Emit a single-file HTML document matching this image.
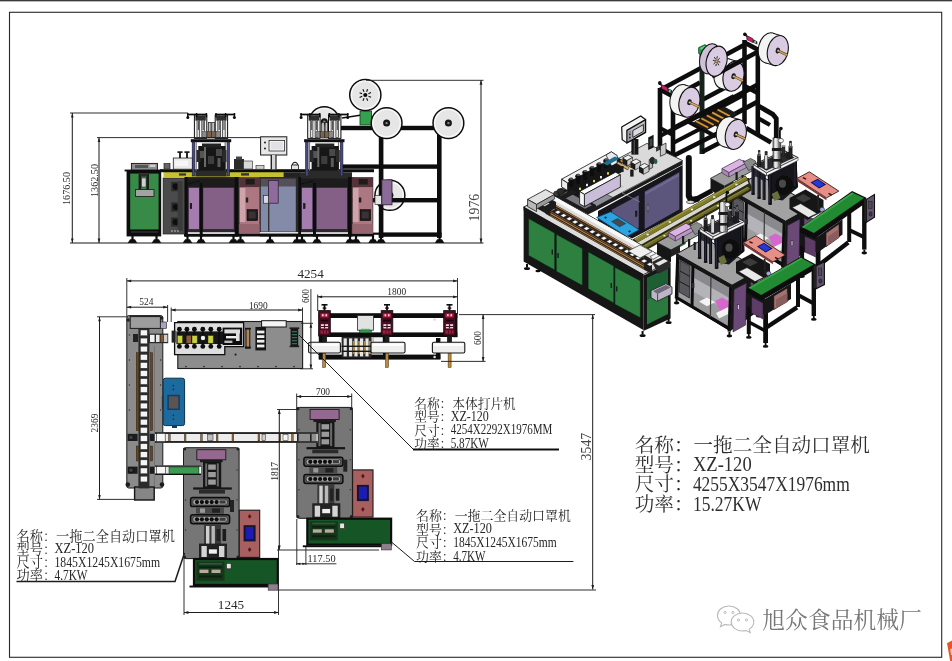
<!DOCTYPE html>
<html><head><meta charset="utf-8"><title>drawing</title>
<style>html,body{margin:0;padding:0;background:#fff;overflow:hidden}svg{display:block}text{font-family:"Liberation Serif","Noto Serif CJK SC",serif}</style>
</head><body>
<svg width="952" height="661" viewBox="0 0 952 661">
<defs><filter id="soft" x="0" y="0" width="100%" height="100%" filterUnits="userSpaceOnUse"><feGaussianBlur stdDeviation="0.45"/></filter></defs>
<rect width="952" height="661" fill="#fff"/>
<g filter="url(#soft)">
<rect x="0" y="0" width="952" height="1.2" fill="#3a3a3a"/>
<rect x="0" y="1.2" width="952" height="0.8" fill="#b5b5b5"/>
<rect x="9.5" y="12.3" width="932.2" height="645" fill="none" stroke="#2a2a2a" stroke-width="1.1"/>
<path d="M947 643.2L952 640.6L952 661L950.2 661Z" fill="#e2572b"/>
<path d="M950.2 649L952 648.4L952 655L951 655Z" fill="#f7c9a8"/>
<circle cx="324.3" cy="121.7" r="15" fill="#e6e6e6" stroke="#101010" stroke-width="1.5"/>
<circle cx="324.3" cy="121.7" r="13.2" fill="none" stroke="#f8f8f8" stroke-width="1.2"/>
<circle cx="324.3" cy="121.7" r="3.5" fill="#141414"/>
<circle cx="324.3" cy="121.7" r="1.2" fill="#8a8a8a"/>
<circle cx="389.9" cy="195.3" r="15" fill="#e6e6e6" stroke="#101010" stroke-width="1.5"/>
<circle cx="389.9" cy="195.3" r="13.2" fill="none" stroke="#f8f8f8" stroke-width="1.2"/>
<circle cx="389.9" cy="195.3" r="3.5" fill="#141414"/>
<circle cx="389.9" cy="195.3" r="1.2" fill="#8a8a8a"/>
<rect x="378.8" y="124" width="4.6" height="114" fill="#0c0c0c"/>
<rect x="437" y="124" width="4.6" height="114" fill="#0c0c0c"/>
<rect x="341" y="125.8" width="100" height="4.4" fill="#0c0c0c"/>
<rect x="341" y="164.4" width="100" height="4.4" fill="#0c0c0c"/>
<rect x="341" y="198" width="100" height="4.4" fill="#0c0c0c"/>
<rect x="378.8" y="232.4" width="62.8" height="4.4" fill="#0c0c0c"/>
<rect x="349" y="232.6" width="32" height="2.2" fill="#0c0c0c"/>
<path d="M439.4 228L439.4 233" stroke="#0c0c0c" stroke-width="1.2" fill="none"/>
<circle cx="439.4" cy="227.6" r="1" fill="#0c0c0c"/>
<path d="M376.2 243L385.8 243L383.4 239.2L378.6 239.2Z" fill="#111"/>
<path d="M381 240L381 235" stroke="#111" stroke-width="2.2" fill="none"/>
<path d="M434.8 243L444.4 243L442 239.2L437.2 239.2Z" fill="#111"/>
<path d="M439.6 240L439.6 235" stroke="#111" stroke-width="2.2" fill="none"/>
<rect x="360" y="111" width="11.6" height="14" fill="#35a04e" stroke="#0f3d1a" stroke-width="0.8"/>
<path d="M342 118L360 115.2" stroke="#111" stroke-width="1.6" fill="none"/>
<circle cx="365.3" cy="95" r="15.6" fill="#e6e6e6" stroke="#101010" stroke-width="1.5"/>
<circle cx="365.3" cy="95" r="13.8" fill="none" stroke="#f8f8f8" stroke-width="1.2"/>
<circle cx="365.3" cy="95" r="2.1" fill="#111"/>
<path d="M368.5 96.3L371 97.3" stroke="#111" stroke-width="1.1" fill="none"/>
<path d="M366.6 98.1L367.7 100.7" stroke="#111" stroke-width="1.1" fill="none"/>
<path d="M364 98.2L363 100.7" stroke="#111" stroke-width="1.1" fill="none"/>
<path d="M362.2 96.3L359.6 97.4" stroke="#111" stroke-width="1.1" fill="none"/>
<path d="M362.1 93.7L359.6 92.7" stroke="#111" stroke-width="1.1" fill="none"/>
<path d="M364 91.9L362.9 89.3" stroke="#111" stroke-width="1.1" fill="none"/>
<path d="M366.6 91.8L367.6 89.3" stroke="#111" stroke-width="1.1" fill="none"/>
<path d="M368.4 93.7L371 92.6" stroke="#111" stroke-width="1.1" fill="none"/>
<circle cx="386.6" cy="123.1" r="15.4" fill="#e6e6e6" stroke="#101010" stroke-width="1.5"/>
<circle cx="386.6" cy="123.1" r="13.6" fill="none" stroke="#f8f8f8" stroke-width="1.2"/>
<circle cx="386.6" cy="123.1" r="3.5" fill="#141414"/>
<circle cx="386.6" cy="123.1" r="1.2" fill="#8a8a8a"/>
<circle cx="448.4" cy="123.1" r="15.4" fill="#e6e6e6" stroke="#101010" stroke-width="1.5"/>
<circle cx="448.4" cy="123.1" r="13.6" fill="none" stroke="#f8f8f8" stroke-width="1.2"/>
<circle cx="448.4" cy="123.1" r="3.5" fill="#141414"/>
<circle cx="448.4" cy="123.1" r="1.2" fill="#8a8a8a"/>
<rect x="381.8" y="179.8" width="10.2" height="25" fill="#8a6a96" stroke="#2a1a30" stroke-width="0.8"/>
<rect x="375" y="195.6" width="6.4" height="9" fill="#e4e4e4" stroke="#222" stroke-width="0.6"/>
<rect x="160" y="169.2" width="214" height="3" fill="#111"/>
<rect x="163.5" y="172.2" width="120" height="4.8" fill="#c8c02e"/>
<rect x="163.5" y="172.2" width="120" height="0.8" fill="#8a8c20"/>
<rect x="283.5" y="172.2" width="17" height="4.8" fill="#222"/>
<rect x="241" y="173.2" width="8" height="2.4" fill="#333"/>
<rect x="179" y="173.4" width="7" height="2.2" fill="#333"/>
<rect x="300" y="172.2" width="52" height="4.8" fill="#2c2c2c"/>
<rect x="126.6" y="170.2" width="34.6" height="66.2" fill="#111"/>
<rect x="130.2" y="173.6" width="28.4" height="55.8" fill="#378a46"/>
<rect x="131" y="231.6" width="27" height="0.8" fill="#4a4a4a"/>
<rect x="131.4" y="163.4" width="26" height="7" fill="#8d8d8d" stroke="#111" stroke-width="0.9"/>
<rect x="135" y="165" width="13" height="3" fill="#555"/>
<rect x="149.5" y="164.6" width="6" height="2.4" fill="#cfcfcf"/>
<rect x="124.6" y="169.6" width="38.6" height="1.8" fill="#111"/>
<rect x="138.6" y="174" width="2.6" height="16" fill="#1c1c1c"/>
<rect x="146.4" y="174" width="2.6" height="16" fill="#1c1c1c"/>
<rect x="141.6" y="178" width="4.4" height="9" fill="#d0d0d0" stroke="#222" stroke-width="0.5"/>
<rect x="140" y="174" width="7.6" height="2.6" fill="#2a2a2a"/>
<rect x="135.4" y="189.6" width="18.6" height="6.8" fill="#a2a2a2" stroke="#1a1a1a" stroke-width="0.8"/>
<path d="M127.7 243L137.3 243L134.9 239.2L130.1 239.2Z" fill="#111"/>
<path d="M132.5 240L132.5 235" stroke="#111" stroke-width="2.2" fill="none"/>
<path d="M151.7 243L161.3 243L158.9 239.2L154.1 239.2Z" fill="#111"/>
<path d="M156.5 240L156.5 235" stroke="#111" stroke-width="2.2" fill="none"/>
<rect x="163.1" y="178" width="21.6" height="56" fill="#4b4b4b" stroke="#1d1d1d" stroke-width="0.7"/>
<rect x="171.2" y="182" width="9.4" height="9.2" fill="#2b2b2b"/>
<circle cx="175.8" cy="186.6" r="3.1" fill="#111"/>
<rect x="171.2" y="202.4" width="9.4" height="9.2" fill="#2b2b2b"/>
<circle cx="175.8" cy="207" r="3.1" fill="#111"/>
<rect x="171.2" y="217.4" width="9.4" height="9.2" fill="#2b2b2b"/>
<circle cx="175.8" cy="222" r="3.1" fill="#111"/>
<rect x="177.6" y="181" width="5" height="50" fill="#3a3a3a"/>
<circle cx="172" cy="231" r="0.8" fill="#ccc"/>
<circle cx="175" cy="231" r="0.8" fill="#ccc"/>
<circle cx="178" cy="231" r="0.8" fill="#ccc"/>
<rect x="173.3" y="158" width="19.3" height="11.2" fill="#e9e9e9" stroke="#222" stroke-width="0.8"/>
<rect x="175" y="160.5" width="13" height="5.5" fill="#f6f6f6"/>
<rect x="179.1" y="152.4" width="1.8" height="5.6" fill="#111"/>
<rect x="177.4" y="151.3" width="5.2" height="1.6" fill="#111"/>
<rect x="186.1" y="152.4" width="1.8" height="5.6" fill="#111"/>
<rect x="184.4" y="151.3" width="5.2" height="1.6" fill="#111"/>
<rect x="164" y="163.5" width="6" height="5.6" fill="#666" stroke="#111" stroke-width="0.6"/>
<rect x="234" y="159" width="10" height="10" fill="#2a2a2a"/>
<rect x="236" y="156.5" width="6" height="3" fill="#444"/>
<rect x="243.5" y="161" width="9" height="8" fill="#d9d9d9" stroke="#222" stroke-width="0.6"/>
<rect x="256" y="165.6" width="8" height="3.6" fill="#cfcfcf" stroke="#222" stroke-width="0.6"/>
<circle cx="295" cy="164.8" r="2.6" fill="#e4e4e4" stroke="#111" stroke-width="1"/>
<rect x="291.6" y="165" width="6.8" height="4.4" fill="#e4e4e4" stroke="#111" stroke-width="0.8"/>
<rect x="194.4" y="115" width="12.4" height="23.4" fill="#f4f4f4" stroke="#111" stroke-width="1"/>
<rect x="197" y="116" width="2.6" height="21.6" fill="#e2e2e2" stroke="#2a2a2a" stroke-width="0.7"/>
<rect x="201.8" y="116" width="2.6" height="21.6" fill="#e2e2e2" stroke="#2a2a2a" stroke-width="0.7"/>
<rect x="195.4" y="116" width="10.4" height="4.6" fill="#2e2e2e"/>
<rect x="197.8" y="121" width="1.2" height="9" fill="#555"/>
<rect x="202.6" y="121" width="1.2" height="9" fill="#555"/>
<rect x="215.2" y="115" width="12.4" height="23.4" fill="#f4f4f4" stroke="#111" stroke-width="1"/>
<rect x="217.8" y="116" width="2.6" height="21.6" fill="#e2e2e2" stroke="#2a2a2a" stroke-width="0.7"/>
<rect x="222.6" y="116" width="2.6" height="21.6" fill="#e2e2e2" stroke="#2a2a2a" stroke-width="0.7"/>
<rect x="216.2" y="116" width="10.4" height="4.6" fill="#2e2e2e"/>
<rect x="218.6" y="121" width="1.2" height="9" fill="#555"/>
<rect x="223.4" y="121" width="1.2" height="9" fill="#555"/>
<rect x="208.4" y="122.4" width="2.6" height="15.6" fill="#c4c4c4" stroke="#1a1a1a" stroke-width="0.7"/>
<rect x="211.8" y="122.4" width="2.6" height="15.6" fill="#c4c4c4" stroke="#1a1a1a" stroke-width="0.7"/>
<rect x="207.2" y="131.6" width="4" height="5.6" fill="#7a6450" stroke="#2a2018" stroke-width="0.4"/>
<rect x="211.6" y="131.6" width="4" height="5.6" fill="#7a6450" stroke="#2a2018" stroke-width="0.4"/>
<rect x="216.4" y="131.6" width="4" height="5.6" fill="#8a8a8a" stroke="#222" stroke-width="0.4"/>
<rect x="202.6" y="131.6" width="4" height="5.6" fill="#8a8a8a" stroke="#222" stroke-width="0.4"/>
<path d="M187 114.5L207 114.5" stroke="#111" stroke-width="1.7" fill="none"/>
<path d="M215.4 114.5L235.2 114.5" stroke="#111" stroke-width="1.7" fill="none"/>
<path d="M187.8 113L187.8 117.4" stroke="#111" stroke-width="1.5" fill="none"/>
<path d="M196.6 113L196.6 117.4" stroke="#111" stroke-width="1.5" fill="none"/>
<path d="M206.4 113L206.4 117.4" stroke="#111" stroke-width="1.5" fill="none"/>
<path d="M216 113L216 117.4" stroke="#111" stroke-width="1.5" fill="none"/>
<path d="M225.6 113L225.6 117.4" stroke="#111" stroke-width="1.5" fill="none"/>
<path d="M234.4 113L234.4 117.4" stroke="#111" stroke-width="1.5" fill="none"/>
<circle cx="187.8" cy="117.6" r="1.5" fill="#111"/>
<circle cx="234.4" cy="117.6" r="1.5" fill="#111"/>
<rect x="190.8" y="139.2" width="40.4" height="3" fill="#111"/>
<rect x="192.2" y="142" width="2.6" height="34" fill="#4a4a7c" stroke="#1a1a3a" stroke-width="0.6"/>
<rect x="227" y="142" width="2.6" height="34" fill="#4a4a7c" stroke="#1a1a3a" stroke-width="0.6"/>
<rect x="195.6" y="142" width="1.2" height="34" fill="#777"/>
<rect x="224.6" y="142" width="1.2" height="34" fill="#777"/>
<rect x="198.3" y="146" width="27.2" height="24.5" fill="#161616"/>
<rect x="202" y="143.5" width="19" height="4" fill="#222"/>
<rect x="196.5" y="150" width="4" height="12" fill="#2a2a2a"/>
<rect x="222.5" y="150" width="4" height="12" fill="#2a2a2a"/>
<rect x="200" y="151" width="5" height="7" fill="#555"/>
<rect x="216" y="149" width="6" height="7" fill="#4a4a4a"/>
<rect x="208" y="156" width="6" height="8" fill="#3c3c3c"/>
<rect x="204" y="147" width="2" height="20" fill="#6a6a6a"/>
<rect x="217.500" y="158" width="3" height="9" fill="#5a5a5a"/>
<rect x="195.500" y="170.500" width="31" height="6" fill="#2b2b2b"/>
<rect x="201" y="177.500" width="19" height="2.600" fill="#dadada" stroke="#222" stroke-width="0.5"/>
<rect x="204" y="180" width="13" height="2.2" fill="#111"/>
<rect x="307.7" y="115" width="12.4" height="23.4" fill="#f4f4f4" stroke="#111" stroke-width="1"/>
<rect x="310.3" y="116" width="2.6" height="21.6" fill="#e2e2e2" stroke="#2a2a2a" stroke-width="0.7"/>
<rect x="315.1" y="116" width="2.6" height="21.6" fill="#e2e2e2" stroke="#2a2a2a" stroke-width="0.7"/>
<rect x="308.7" y="116" width="10.4" height="4.6" fill="#2e2e2e"/>
<rect x="311.1" y="121" width="1.2" height="9" fill="#555"/>
<rect x="315.9" y="121" width="1.2" height="9" fill="#555"/>
<rect x="328.5" y="115" width="12.4" height="23.4" fill="#f4f4f4" stroke="#111" stroke-width="1"/>
<rect x="331.1" y="116" width="2.6" height="21.6" fill="#e2e2e2" stroke="#2a2a2a" stroke-width="0.7"/>
<rect x="335.9" y="116" width="2.6" height="21.6" fill="#e2e2e2" stroke="#2a2a2a" stroke-width="0.7"/>
<rect x="329.5" y="116" width="10.4" height="4.6" fill="#2e2e2e"/>
<rect x="331.9" y="121" width="1.2" height="9" fill="#555"/>
<rect x="336.7" y="121" width="1.2" height="9" fill="#555"/>
<rect x="321.7" y="122.4" width="2.6" height="15.6" fill="#c4c4c4" stroke="#1a1a1a" stroke-width="0.7"/>
<rect x="325.1" y="122.4" width="2.6" height="15.6" fill="#c4c4c4" stroke="#1a1a1a" stroke-width="0.7"/>
<rect x="320.5" y="131.6" width="4" height="5.6" fill="#7a6450" stroke="#2a2018" stroke-width="0.4"/>
<rect x="324.9" y="131.6" width="4" height="5.6" fill="#7a6450" stroke="#2a2018" stroke-width="0.4"/>
<rect x="329.7" y="131.6" width="4" height="5.6" fill="#8a8a8a" stroke="#222" stroke-width="0.4"/>
<rect x="315.9" y="131.6" width="4" height="5.6" fill="#8a8a8a" stroke="#222" stroke-width="0.4"/>
<path d="M300.3 114.5L320.3 114.5" stroke="#111" stroke-width="1.7" fill="none"/>
<path d="M328.7 114.5L348.5 114.5" stroke="#111" stroke-width="1.7" fill="none"/>
<path d="M301.1 113L301.1 117.4" stroke="#111" stroke-width="1.5" fill="none"/>
<path d="M309.9 113L309.9 117.4" stroke="#111" stroke-width="1.5" fill="none"/>
<path d="M319.7 113L319.7 117.4" stroke="#111" stroke-width="1.5" fill="none"/>
<path d="M329.3 113L329.3 117.4" stroke="#111" stroke-width="1.5" fill="none"/>
<path d="M338.9 113L338.9 117.4" stroke="#111" stroke-width="1.5" fill="none"/>
<path d="M347.7 113L347.7 117.4" stroke="#111" stroke-width="1.5" fill="none"/>
<circle cx="301.1" cy="117.6" r="1.5" fill="#111"/>
<circle cx="347.7" cy="117.6" r="1.5" fill="#111"/>
<rect x="304.1" y="139.2" width="40.4" height="3" fill="#111"/>
<rect x="305.5" y="142" width="2.6" height="34" fill="#4a4a7c" stroke="#1a1a3a" stroke-width="0.6"/>
<rect x="340.3" y="142" width="2.6" height="34" fill="#4a4a7c" stroke="#1a1a3a" stroke-width="0.6"/>
<rect x="308.9" y="142" width="1.2" height="34" fill="#777"/>
<rect x="337.9" y="142" width="1.2" height="34" fill="#777"/>
<rect x="311.6" y="146" width="27.2" height="24.5" fill="#161616"/>
<rect x="315.3" y="143.5" width="19" height="4" fill="#222"/>
<rect x="309.8" y="150" width="4" height="12" fill="#2a2a2a"/>
<rect x="335.8" y="150" width="4" height="12" fill="#2a2a2a"/>
<rect x="313.3" y="151" width="5" height="7" fill="#555"/>
<rect x="329.3" y="149" width="6" height="7" fill="#4a4a4a"/>
<rect x="321.3" y="156" width="6" height="8" fill="#3c3c3c"/>
<rect x="317.3" y="147" width="2" height="20" fill="#6a6a6a"/>
<rect x="330.8" y="158" width="3" height="9" fill="#5a5a5a"/>
<rect x="308.8" y="170.5" width="31" height="6" fill="#2b2b2b"/>
<rect x="314.3" y="177.5" width="19" height="2.6" fill="#dadada" stroke="#222" stroke-width="0.5"/>
<rect x="317.3" y="180" width="13" height="2.2" fill="#111"/>
<rect x="184.7" y="177" width="54.6" height="59.5" fill="#2a2a2a"/>
<rect x="186.2" y="178.5" width="51.6" height="8.5" fill="#1f1a1c"/>
<rect x="188.3" y="187.4" width="11.2" height="42" fill="#a47cae" stroke="#2a1a30" stroke-width="0.6"/>
<rect x="202.9" y="187.4" width="31.2" height="42" fill="#845f86" stroke="#2a1a30" stroke-width="0.6"/>
<rect x="190.1" y="203.5" width="1.7" height="5.2" fill="#222" stroke="#000" stroke-width="0.4"/>
<rect x="187.7" y="232.2" width="48.6" height="1.8" fill="#e8e8e8"/>
<rect x="184.7" y="177" width="3" height="59.5" fill="#111"/>
<rect x="199.7" y="183" width="3" height="53.5" fill="#111"/>
<rect x="234.7" y="177" width="3.6" height="59.5" fill="#111"/>
<path d="M187.7 184L199.7 181" stroke="#111" stroke-width="1.2" fill="none"/>
<rect x="298" y="177" width="54.6" height="59.5" fill="#2a2a2a"/>
<rect x="299.5" y="178.5" width="51.6" height="8.5" fill="#1f1a1c"/>
<rect x="301.6" y="187.4" width="11.2" height="42" fill="#a47cae" stroke="#2a1a30" stroke-width="0.6"/>
<rect x="316.2" y="187.4" width="31.2" height="42" fill="#845f86" stroke="#2a1a30" stroke-width="0.6"/>
<rect x="303.4" y="203.5" width="1.7" height="5.2" fill="#222" stroke="#000" stroke-width="0.4"/>
<rect x="301" y="232.2" width="48.6" height="1.8" fill="#e8e8e8"/>
<rect x="298" y="177" width="3" height="59.5" fill="#111"/>
<rect x="313" y="183" width="3" height="53.5" fill="#111"/>
<rect x="348" y="177" width="3.6" height="59.5" fill="#111"/>
<path d="M301 184L313 181" stroke="#111" stroke-width="1.2" fill="none"/>
<rect x="239.2" y="177.6" width="20.6" height="56.5" fill="#ad7782" stroke="#3a2a2e" stroke-width="0.7"/>
<rect x="239.2" y="177.6" width="20.6" height="9.5" fill="#553038"/>
<rect x="245.7" y="179" width="9" height="5.5" fill="#1d1d1d"/>
<rect x="239.8" y="188" width="5.6" height="34" fill="#cfa3aa"/>
<rect x="247" y="209.6" width="10.6" height="11" fill="#1e1a1b" stroke="#000" stroke-width="0.5"/>
<rect x="248.7" y="211.5" width="7" height="7" fill="#3a3234"/>
<rect x="245.8" y="197.5" width="2.4" height="5" fill="#222"/>
<rect x="239.2" y="224" width="20.6" height="10" fill="#96656f"/>
<rect x="352.3" y="177.6" width="20.6" height="56.5" fill="#ad7782" stroke="#3a2a2e" stroke-width="0.7"/>
<rect x="352.3" y="177.6" width="20.6" height="9.5" fill="#553038"/>
<rect x="358.8" y="179" width="9" height="5.5" fill="#1d1d1d"/>
<rect x="352.9" y="188" width="5.6" height="34" fill="#cfa3aa"/>
<rect x="360.1" y="209.6" width="10.6" height="11" fill="#1e1a1b" stroke="#000" stroke-width="0.5"/>
<rect x="361.8" y="211.5" width="7" height="7" fill="#3a3234"/>
<rect x="358.9" y="197.5" width="2.4" height="5" fill="#222"/>
<rect x="352.3" y="224" width="20.6" height="10" fill="#96656f"/>
<rect x="259.8" y="177" width="38.4" height="59.5" fill="#2a2a2a"/>
<rect x="260.8" y="186.2" width="35" height="45.4" fill="#838ba8"/>
<rect x="260.8" y="178.6" width="35" height="7.6" fill="#55505a"/>
<rect x="268" y="186.2" width="1.4" height="45.4" fill="#333"/>
<rect x="268.6" y="180.6" width="9.6" height="22.6" fill="#8f6a9c" stroke="#2a1a30" stroke-width="0.7"/>
<rect x="263.6" y="195.6" width="4.8" height="7.6" fill="#d8d8e4" stroke="#222" stroke-width="0.6"/>
<rect x="259.8" y="232" width="38.4" height="1.6" fill="#e0e0e0"/>
<rect x="184" y="233.9" width="190" height="2.6" fill="#111"/>
<path d="M182.7 243L192.3 243L189.9 239.2L185.1 239.2Z" fill="#111"/>
<path d="M187.5 240L187.5 235" stroke="#111" stroke-width="2.2" fill="none"/>
<path d="M196.2 243L205.8 243L203.4 239.2L198.6 239.2Z" fill="#111"/>
<path d="M201 240L201 235" stroke="#111" stroke-width="2.2" fill="none"/>
<path d="M228.7 243L238.3 243L235.9 239.2L231.1 239.2Z" fill="#111"/>
<path d="M233.5 240L233.5 235" stroke="#111" stroke-width="2.2" fill="none"/>
<path d="M235.7 243L245.3 243L242.9 239.2L238.1 239.2Z" fill="#111"/>
<path d="M240.5 240L240.5 235" stroke="#111" stroke-width="2.2" fill="none"/>
<path d="M265.2 243L274.8 243L272.4 239.2L267.6 239.2Z" fill="#111"/>
<path d="M270 240L270 235" stroke="#111" stroke-width="2.2" fill="none"/>
<path d="M292.2 243L301.8 243L299.4 239.2L294.6 239.2Z" fill="#111"/>
<path d="M297 240L297 235" stroke="#111" stroke-width="2.2" fill="none"/>
<path d="M297.2 243L306.8 243L304.4 239.2L299.6 239.2Z" fill="#111"/>
<path d="M302 240L302 235" stroke="#111" stroke-width="2.2" fill="none"/>
<path d="M312.2 243L321.8 243L319.4 239.2L314.6 239.2Z" fill="#111"/>
<path d="M317 240L317 235" stroke="#111" stroke-width="2.2" fill="none"/>
<path d="M345.2 243L354.8 243L352.4 239.2L347.6 239.2Z" fill="#111"/>
<path d="M350 240L350 235" stroke="#111" stroke-width="2.2" fill="none"/>
<path d="M351.2 243L360.8 243L358.4 239.2L353.6 239.2Z" fill="#111"/>
<path d="M356 240L356 235" stroke="#111" stroke-width="2.2" fill="none"/>
<path d="M368.2 243L377.8 243L375.4 239.2L370.6 239.2Z" fill="#111"/>
<path d="M373 240L373 235" stroke="#111" stroke-width="2.2" fill="none"/>
<rect x="260.6" y="136.8" width="26.2" height="18.2" fill="#e8e8e8" stroke="#1a1a1a" stroke-width="1"/>
<rect x="269" y="140.4" width="15.6" height="10.6" fill="#f2f2f2" stroke="#333" stroke-width="0.8"/>
<rect x="270.8" y="142" width="12" height="7.4" fill="#e2e2e6"/>
<circle cx="265" cy="142.6" r="1" fill="#222"/>
<circle cx="265" cy="148.4" r="1" fill="#222"/>
<rect x="270.6" y="155" width="1.4" height="14.2" fill="#222"/>
<rect x="275.2" y="155" width="1.4" height="14.2" fill="#222"/>
<rect x="272" y="155" width="3.2" height="14.2" fill="#d5d5d5"/>
<rect x="183.5" y="447.7" width="55.6" height="110.9" fill="#767676" stroke="#1a1a1a" stroke-width="1" rx="2.5"/>
<circle cx="184.6" cy="449" r="1.6" fill="#222"/>
<circle cx="238" cy="449" r="1.6" fill="#222"/>
<circle cx="184.6" cy="557" r="1.6" fill="#222"/>
<circle cx="238" cy="557" r="1.6" fill="#222"/>
<circle cx="185.6" cy="470" r="0.7" fill="#333"/>
<circle cx="237" cy="470" r="0.7" fill="#333"/>
<circle cx="185.6" cy="500" r="0.7" fill="#333"/>
<circle cx="237" cy="500" r="0.7" fill="#333"/>
<circle cx="185.6" cy="530" r="0.7" fill="#333"/>
<circle cx="237" cy="530" r="0.7" fill="#333"/>
<rect x="196.8" y="449.7" width="29" height="10.1" fill="#94678f" stroke="#231826" stroke-width="0.9"/>
<rect x="200" y="459.8" width="22.6" height="2.4" fill="#1a1a1a"/>
<rect x="203" y="462" width="18.2" height="27" fill="#181818"/>
<rect x="208.2" y="464.5" width="7.6" height="5.2" fill="#9a9a9a"/>
<rect x="208.2" y="472" width="7.6" height="5.2" fill="#9a9a9a"/>
<rect x="208.2" y="479.5" width="7.6" height="5.2" fill="#9a9a9a"/>
<rect x="205.2" y="463.4" width="2" height="23" fill="#6a6a6a"/>
<rect x="216.8" y="463.4" width="2" height="23" fill="#6a6a6a"/>
<rect x="193.2" y="487.4" width="38.6" height="2.2" fill="#151515"/>
<rect x="199" y="490" width="26" height="3.6" fill="#2a2a2a"/>
<rect x="190.6" y="497.6" width="39" height="9" fill="#5a5a5a" stroke="#0c0c0c" stroke-width="1.5" rx="2.2"/>
<rect x="192.8" y="499.2" width="34.6" height="5.8" fill="#a6a6a6" stroke="#111" stroke-width="0.6" rx="2.6"/>
<circle cx="197" cy="502.1" r="2.1" fill="#0c0c0c"/>
<circle cx="201.9" cy="502.1" r="2.1" fill="#0c0c0c"/>
<circle cx="206.8" cy="502.1" r="2.1" fill="#0c0c0c"/>
<circle cx="211.7" cy="502.1" r="2.1" fill="#0c0c0c"/>
<circle cx="216.6" cy="502.1" r="2.1" fill="#0c0c0c"/>
<rect x="219.6" y="500.4" width="6" height="3.2" fill="#3a3a3a"/>
<rect x="190.6" y="514.8" width="39" height="9" fill="#5a5a5a" stroke="#0c0c0c" stroke-width="1.5" rx="2.2"/>
<rect x="192.8" y="516.4" width="34.6" height="5.8" fill="#a6a6a6" stroke="#111" stroke-width="0.6" rx="2.6"/>
<circle cx="197" cy="519.3" r="2.1" fill="#0c0c0c"/>
<circle cx="201.9" cy="519.3" r="2.1" fill="#0c0c0c"/>
<circle cx="206.8" cy="519.3" r="2.1" fill="#0c0c0c"/>
<circle cx="211.7" cy="519.3" r="2.1" fill="#0c0c0c"/>
<circle cx="216.6" cy="519.3" r="2.1" fill="#0c0c0c"/>
<rect x="219.6" y="517.6" width="6" height="3.2" fill="#3a3a3a"/>
<rect x="196" y="507.4" width="28" height="6.4" fill="#4a4a4a"/>
<rect x="200" y="508.4" width="5" height="4.4" fill="#999"/>
<rect x="212" y="508.4" width="8" height="4.4" fill="#222"/>
<rect x="230" y="500" width="4" height="12" fill="#222"/>
<rect x="204" y="524" width="17" height="22" fill="#3a3a3a"/>
<rect x="206" y="526" width="3.4" height="18" fill="#cfcfcf"/>
<rect x="211.5" y="526" width="3.4" height="18" fill="#b8b8b8"/>
<rect x="216.6" y="529" width="3.4" height="12" fill="#222"/>
<rect x="222.5" y="529" width="3.6" height="12" fill="#1f1f1f"/>
<rect x="199" y="543.6" width="28" height="15" fill="#202020"/>
<rect x="201.4" y="546" width="5.4" height="11" fill="#d4d4d4"/>
<rect x="219" y="546" width="5.4" height="11" fill="#d4d4d4"/>
<rect x="208.6" y="549" width="8.6" height="5" fill="#efefef" stroke="#111" stroke-width="0.6"/>
<rect x="239.3" y="510.2" width="20.4" height="47.2" fill="#a85e5e" stroke="#1f1a1a" stroke-width="1.1"/>
<rect x="243.6" y="525.2" width="12" height="16.2" fill="#141430"/>
<rect x="245.6" y="527" width="8" height="12.2" fill="#1c1cb2"/>
<path d="M249.6 514L251.4 516.4L249.6 518.8L247.8 516.4Z" fill="#5a1414"/>
<path d="M249.6 547.2L251.4 549.6L249.6 552L247.8 549.6Z" fill="#5a1414"/>
<rect x="194" y="559" width="83.8" height="26" fill="#175425" stroke="#0c0c0c" stroke-width="2.2"/>
<rect x="196.5" y="561.6" width="28" height="19" fill="#12351a"/>
<rect x="199" y="563" width="23" height="1.6" fill="#2f5a38"/>
<rect x="199" y="566.4" width="23" height="1.4" fill="#0c200f"/>
<rect x="199.5" y="569.6" width="9" height="3.4" fill="#b9ab9a"/>
<rect x="211.5" y="569.6" width="9" height="3.4" fill="#b9ab9a"/>
<rect x="199" y="575.5" width="23" height="2" fill="#0d2411"/>
<rect x="226.5" y="563.4" width="4.6" height="5.4" fill="#e6e6e6" stroke="#222" stroke-width="0.6"/>
<rect x="189.5" y="585.6" width="79" height="1.9" fill="#111"/>
<rect x="268.2" y="584" width="9.8" height="6.2" fill="#8f7f8f" stroke="#3a3a3a" stroke-width="0.7"/>
<rect x="296.8" y="407.4" width="55.6" height="110.9" fill="#767676" stroke="#1a1a1a" stroke-width="1" rx="2.5"/>
<circle cx="297.9" cy="408.7" r="1.6" fill="#222"/>
<circle cx="351.3" cy="408.7" r="1.6" fill="#222"/>
<circle cx="297.9" cy="516.7" r="1.6" fill="#222"/>
<circle cx="351.3" cy="516.7" r="1.6" fill="#222"/>
<circle cx="298.9" cy="429.7" r="0.7" fill="#333"/>
<circle cx="350.3" cy="429.7" r="0.7" fill="#333"/>
<circle cx="298.9" cy="459.7" r="0.7" fill="#333"/>
<circle cx="350.3" cy="459.7" r="0.7" fill="#333"/>
<circle cx="298.9" cy="489.7" r="0.7" fill="#333"/>
<circle cx="350.3" cy="489.7" r="0.7" fill="#333"/>
<rect x="310.1" y="409.4" width="29" height="10.1" fill="#94678f" stroke="#231826" stroke-width="0.9"/>
<rect x="313.3" y="419.5" width="22.6" height="2.4" fill="#1a1a1a"/>
<rect x="316.3" y="421.7" width="18.2" height="27" fill="#181818"/>
<rect x="321.5" y="424.2" width="7.6" height="5.2" fill="#9a9a9a"/>
<rect x="321.5" y="431.7" width="7.6" height="5.2" fill="#9a9a9a"/>
<rect x="321.5" y="439.2" width="7.6" height="5.2" fill="#9a9a9a"/>
<rect x="318.5" y="423.1" width="2" height="23" fill="#6a6a6a"/>
<rect x="330.1" y="423.1" width="2" height="23" fill="#6a6a6a"/>
<rect x="306.5" y="447.1" width="38.6" height="2.2" fill="#151515"/>
<rect x="312.3" y="449.7" width="26" height="3.6" fill="#2a2a2a"/>
<rect x="303.9" y="457.3" width="39" height="9" fill="#5a5a5a" stroke="#0c0c0c" stroke-width="1.5" rx="2.2"/>
<rect x="306.1" y="458.9" width="34.6" height="5.8" fill="#a6a6a6" stroke="#111" stroke-width="0.6" rx="2.6"/>
<circle cx="310.3" cy="461.8" r="2.1" fill="#0c0c0c"/>
<circle cx="315.2" cy="461.8" r="2.1" fill="#0c0c0c"/>
<circle cx="320.1" cy="461.8" r="2.1" fill="#0c0c0c"/>
<circle cx="325" cy="461.8" r="2.1" fill="#0c0c0c"/>
<circle cx="329.9" cy="461.8" r="2.1" fill="#0c0c0c"/>
<rect x="332.9" y="460.1" width="6" height="3.2" fill="#3a3a3a"/>
<rect x="303.9" y="474.5" width="39" height="9" fill="#5a5a5a" stroke="#0c0c0c" stroke-width="1.5" rx="2.2"/>
<rect x="306.1" y="476.1" width="34.6" height="5.8" fill="#a6a6a6" stroke="#111" stroke-width="0.6" rx="2.6"/>
<circle cx="310.3" cy="479" r="2.1" fill="#0c0c0c"/>
<circle cx="315.2" cy="479" r="2.1" fill="#0c0c0c"/>
<circle cx="320.1" cy="479" r="2.1" fill="#0c0c0c"/>
<circle cx="325" cy="479" r="2.1" fill="#0c0c0c"/>
<circle cx="329.9" cy="479" r="2.1" fill="#0c0c0c"/>
<rect x="332.9" y="477.3" width="6" height="3.2" fill="#3a3a3a"/>
<rect x="309.3" y="467.1" width="28" height="6.4" fill="#4a4a4a"/>
<rect x="313.3" y="468.1" width="5" height="4.4" fill="#999"/>
<rect x="325.3" y="468.1" width="8" height="4.4" fill="#222"/>
<rect x="343.3" y="459.7" width="4" height="12" fill="#222"/>
<rect x="317.3" y="483.7" width="17" height="22" fill="#3a3a3a"/>
<rect x="319.3" y="485.7" width="3.4" height="18" fill="#cfcfcf"/>
<rect x="324.8" y="485.7" width="3.4" height="18" fill="#b8b8b8"/>
<rect x="329.9" y="488.7" width="3.4" height="12" fill="#222"/>
<rect x="335.8" y="488.7" width="3.6" height="12" fill="#1f1f1f"/>
<rect x="312.3" y="503.3" width="28" height="15" fill="#202020"/>
<rect x="314.7" y="505.7" width="5.4" height="11" fill="#d4d4d4"/>
<rect x="332.3" y="505.7" width="5.4" height="11" fill="#d4d4d4"/>
<rect x="321.9" y="508.7" width="8.6" height="5" fill="#efefef" stroke="#111" stroke-width="0.6"/>
<rect x="352.6" y="469.9" width="20.4" height="47.2" fill="#a85e5e" stroke="#1f1a1a" stroke-width="1.1"/>
<rect x="356.9" y="484.9" width="12" height="16.2" fill="#141430"/>
<rect x="358.9" y="486.7" width="8" height="12.2" fill="#1c1cb2"/>
<path d="M362.9 473.7L364.7 476.1L362.9 478.5L361.1 476.1Z" fill="#5a1414"/>
<path d="M362.9 506.9L364.7 509.3L362.9 511.7L361.1 509.3Z" fill="#5a1414"/>
<rect x="307.3" y="518.7" width="83.8" height="26" fill="#175425" stroke="#0c0c0c" stroke-width="2.2"/>
<rect x="309.8" y="521.3" width="28" height="19" fill="#12351a"/>
<rect x="312.3" y="522.7" width="23" height="1.6" fill="#2f5a38"/>
<rect x="312.3" y="526.1" width="23" height="1.4" fill="#0c200f"/>
<rect x="312.8" y="529.3" width="9" height="3.4" fill="#b9ab9a"/>
<rect x="324.8" y="529.3" width="9" height="3.4" fill="#b9ab9a"/>
<rect x="312.3" y="535.2" width="23" height="2" fill="#0d2411"/>
<rect x="339.8" y="523.1" width="4.6" height="5.4" fill="#e6e6e6" stroke="#222" stroke-width="0.6"/>
<rect x="302.8" y="545.3" width="79" height="1.9" fill="#111"/>
<rect x="381.5" y="543.7" width="9.8" height="6.2" fill="#8f7f8f" stroke="#3a3a3a" stroke-width="0.7"/>
<rect x="126.8" y="315.6" width="36" height="172.4" fill="#8b8b8b" stroke="#1c1c1c" stroke-width="1" rx="2"/>
<rect x="134.6" y="487" width="19.6" height="13" fill="#868686" stroke="#151515" stroke-width="1.4"/>
<rect x="130.2" y="316.6" width="30.2" height="11.8" fill="#9d9d9d" stroke="#1a1a1a" stroke-width="1"/>
<rect x="160.6" y="322" width="6" height="6.4" fill="#a9a2c2" stroke="#222" stroke-width="0.6"/>
<circle cx="128.2" cy="320" r="1.7" fill="#222"/>
<circle cx="161.8" cy="318" r="1.5" fill="#222"/>
<circle cx="127.8" cy="484.6" r="2.3" fill="#1c1c1c"/>
<circle cx="162" cy="484.6" r="2.3" fill="#1c1c1c"/>
<rect x="139" y="480" width="10" height="7" fill="#1e1e1e"/>
<rect x="138.4" y="328.4" width="11" height="160" fill="#2c2c2c"/>
<rect x="136.2" y="352.8" width="2.2" height="78" fill="#6b4420" stroke="#2a1a0a" stroke-width="0.4"/>
<rect x="150.4" y="352.8" width="2.2" height="78" fill="#6b4420" stroke="#2a1a0a" stroke-width="0.4"/>
<rect x="136.2" y="446" width="2.2" height="15" fill="#6b4420" stroke="#2a1a0a" stroke-width="0.4"/>
<rect x="150.4" y="446" width="2.2" height="15" fill="#6b4420" stroke="#2a1a0a" stroke-width="0.4"/>
<rect x="140.4" y="330" width="6.9" height="5.7" fill="#f4f4f4" stroke="#222" stroke-width="0.4"/>
<rect x="140.4" y="338.1" width="6.9" height="5.7" fill="#f4f4f4" stroke="#222" stroke-width="0.4"/>
<rect x="140.4" y="346.2" width="6.9" height="5.7" fill="#f4f4f4" stroke="#222" stroke-width="0.4"/>
<rect x="140.4" y="354.4" width="6.9" height="5.7" fill="#f4f4f4" stroke="#222" stroke-width="0.4"/>
<rect x="140.4" y="362.5" width="6.9" height="5.7" fill="#f4f4f4" stroke="#222" stroke-width="0.4"/>
<rect x="140.4" y="370.6" width="6.9" height="5.7" fill="#f4f4f4" stroke="#222" stroke-width="0.4"/>
<rect x="140.4" y="378.7" width="6.9" height="5.7" fill="#f4f4f4" stroke="#222" stroke-width="0.4"/>
<rect x="140.4" y="386.8" width="6.9" height="5.7" fill="#f4f4f4" stroke="#222" stroke-width="0.4"/>
<rect x="140.4" y="395" width="6.9" height="5.7" fill="#f4f4f4" stroke="#222" stroke-width="0.4"/>
<rect x="140.4" y="403.1" width="6.9" height="5.7" fill="#f4f4f4" stroke="#222" stroke-width="0.4"/>
<rect x="140.4" y="411.2" width="6.9" height="5.7" fill="#f4f4f4" stroke="#222" stroke-width="0.4"/>
<rect x="140.4" y="419.3" width="6.9" height="5.7" fill="#f4f4f4" stroke="#222" stroke-width="0.4"/>
<rect x="140.4" y="427.4" width="6.9" height="5.7" fill="#f4f4f4" stroke="#222" stroke-width="0.4"/>
<rect x="140.4" y="435.6" width="6.9" height="5.7" fill="#f4f4f4" stroke="#222" stroke-width="0.4"/>
<rect x="140.4" y="443.7" width="6.9" height="5.7" fill="#f4f4f4" stroke="#222" stroke-width="0.4"/>
<rect x="140.4" y="451.8" width="6.9" height="5.7" fill="#f4f4f4" stroke="#222" stroke-width="0.4"/>
<rect x="140.4" y="459.9" width="6.9" height="5.7" fill="#f4f4f4" stroke="#222" stroke-width="0.4"/>
<rect x="140.4" y="468" width="6.9" height="5.7" fill="#f4f4f4" stroke="#222" stroke-width="0.4"/>
<rect x="140.4" y="476.2" width="6.9" height="5.7" fill="#f4f4f4" stroke="#222" stroke-width="0.4"/>
<circle cx="129.4" cy="335" r="0.7" fill="#333"/>
<circle cx="160.6" cy="335" r="0.7" fill="#333"/>
<circle cx="129.4" cy="360" r="0.7" fill="#333"/>
<circle cx="160.6" cy="360" r="0.7" fill="#333"/>
<circle cx="129.4" cy="385" r="0.7" fill="#333"/>
<circle cx="160.6" cy="385" r="0.7" fill="#333"/>
<circle cx="129.4" cy="410" r="0.7" fill="#333"/>
<circle cx="160.6" cy="410" r="0.7" fill="#333"/>
<circle cx="129.4" cy="440" r="0.7" fill="#333"/>
<circle cx="160.6" cy="440" r="0.7" fill="#333"/>
<circle cx="129.4" cy="470" r="0.7" fill="#333"/>
<circle cx="160.6" cy="470" r="0.7" fill="#333"/>
<path d="M154.4 346L154.4 486" stroke="#6e6e6e" stroke-width="0.8" fill="none"/>
<rect x="148.6" y="333.6" width="19.6" height="9.6" fill="#2a2a2a"/>
<rect x="150" y="334.8" width="4.6" height="7.2" fill="#f2f2f2"/>
<rect x="156" y="334.8" width="3.6" height="7.2" fill="#e8e8e8"/>
<rect x="160.6" y="334.8" width="2.4" height="7.2" fill="#8c5a28"/>
<rect x="163.8" y="334.8" width="3.6" height="7.2" fill="#cfcfcf"/>
<rect x="133" y="334" width="5" height="8" fill="#222"/>
<rect x="127.6" y="433.8" width="10" height="7.2" fill="#1c1c1c"/>
<circle cx="131" cy="437.4" r="2.4" fill="#3c3c3c" stroke="#000" stroke-width="0.6"/>
<rect x="149.8" y="433.8" width="5" height="7.2" fill="#1c1c1c"/>
<rect x="127.6" y="466.6" width="10" height="7.2" fill="#1c1c1c"/>
<circle cx="131" cy="470.2" r="2.4" fill="#3c3c3c" stroke="#000" stroke-width="0.6"/>
<rect x="149.8" y="466.6" width="5" height="7.2" fill="#1c1c1c"/>
<rect x="163.2" y="378.2" width="21.4" height="47.4" fill="#1f6b9e" stroke="#0f2f48" stroke-width="1" rx="2.2"/>
<rect x="167.4" y="394.8" width="12.4" height="15.2" fill="#123a5c"/>
<rect x="168.8" y="396.2" width="9.6" height="12.4" fill="#5b5254"/>
<circle cx="173.4" cy="385.6" r="0.8" fill="#0d2a40"/>
<circle cx="173.4" cy="389.4" r="0.8" fill="#0d2a40"/>
<circle cx="173.4" cy="415.4" r="0.8" fill="#0d2a40"/>
<circle cx="173.4" cy="419.2" r="0.8" fill="#0d2a40"/>
<rect x="172" y="425.4" width="5" height="2.6" fill="#123a5c"/>
<rect x="161.8" y="396" width="1.6" height="13" fill="#333"/>
<rect x="154.8" y="432.2" width="163" height="10.6" fill="#ececec"/>
<rect x="154.8" y="432.2" width="163" height="1.7" fill="#111"/>
<rect x="154.8" y="441.1" width="163" height="1.7" fill="#111"/>
<rect x="156.6" y="433.4" width="8.6" height="8.2" fill="#f6f6f6" stroke="#222" stroke-width="0.6"/>
<rect x="168.4" y="433.8" width="1.8" height="7.4" fill="#9a6a34" stroke="#222" stroke-width="0.4"/>
<rect x="184.2" y="433.8" width="1.8" height="7.4" fill="#9a6a34" stroke="#222" stroke-width="0.4"/>
<rect x="200.5" y="433.8" width="1.8" height="7.4" fill="#9a6a34" stroke="#222" stroke-width="0.4"/>
<rect x="216.2" y="433.8" width="1.8" height="7.4" fill="#9a6a34" stroke="#222" stroke-width="0.4"/>
<rect x="232" y="433.8" width="1.8" height="7.4" fill="#9a6a34" stroke="#222" stroke-width="0.4"/>
<rect x="258" y="433.8" width="1.8" height="7.4" fill="#9a6a34" stroke="#222" stroke-width="0.4"/>
<rect x="279" y="433.8" width="1.8" height="7.4" fill="#9a6a34" stroke="#222" stroke-width="0.4"/>
<rect x="291.5" y="433.8" width="1.8" height="7.4" fill="#9a6a34" stroke="#222" stroke-width="0.4"/>
<rect x="297.6" y="433.8" width="19" height="7.4" fill="#8e8e8e"/>
<rect x="207.4" y="434.4" width="5.6" height="6.2" fill="#bdbdbd" stroke="#222" stroke-width="0.5"/>
<rect x="262" y="434.4" width="3.4" height="6.2" fill="#d0d0d0" stroke="#222" stroke-width="0.5"/>
<rect x="283" y="434.4" width="5" height="6.2" fill="#f4f4f4" stroke="#222" stroke-width="0.5"/>
<rect x="297" y="433.6" width="1.6" height="7.8" fill="#222"/>
<rect x="310" y="433.6" width="1.6" height="7.8" fill="#222"/>
<rect x="154.8" y="465.4" width="46.4" height="9.6" fill="#e8e8e8"/>
<rect x="154.8" y="465.4" width="46.4" height="1.4" fill="#111"/>
<rect x="154.8" y="473.6" width="46.4" height="1.4" fill="#111"/>
<rect x="156.6" y="466.6" width="9" height="7.2" fill="#f6f6f6" stroke="#222" stroke-width="0.6"/>
<rect x="169" y="467" width="30" height="6.4" fill="#3c9a52" stroke="#14441f" stroke-width="0.6"/>
<rect x="199" y="466.6" width="2.2" height="7.2" fill="#fafafa" stroke="#222" stroke-width="0.4"/>
<rect x="177.8" y="321.5" width="124.8" height="47" fill="#8d8d8d" stroke="#1a1a1a" stroke-width="1.1"/>
<circle cx="186" cy="366.6" r="0.8" fill="#222"/>
<circle cx="204" cy="366.6" r="0.8" fill="#222"/>
<circle cx="222" cy="366.6" r="0.8" fill="#222"/>
<circle cx="240" cy="366.6" r="0.8" fill="#222"/>
<circle cx="258" cy="366.6" r="0.8" fill="#222"/>
<circle cx="276" cy="366.6" r="0.8" fill="#222"/>
<circle cx="294" cy="366.6" r="0.8" fill="#222"/>
<circle cx="235.6" cy="354.6" r="1.1" fill="#222"/>
<path d="M174.6 322.6L243.6 322.6L243.6 346.6L224.8 346.6L224.8 354.6L174.6 354.6Z" fill="#dedede" stroke="#101010" stroke-width="1.3"/>
<rect x="171.6" y="330.6" width="4" height="12" fill="#222"/>
<rect x="176.4" y="331.4" width="47" height="12.6" fill="#141414"/>
<circle cx="179.4" cy="329.2" r="2.4" fill="#0c0c0c"/>
<circle cx="179.4" cy="346.4" r="2.4" fill="#0c0c0c"/>
<rect x="178.6" y="329" width="1.6" height="17" fill="#0c0c0c"/>
<circle cx="186.9" cy="329.2" r="2.4" fill="#0c0c0c"/>
<circle cx="186.9" cy="346.4" r="2.4" fill="#0c0c0c"/>
<rect x="186.1" y="329" width="1.6" height="17" fill="#0c0c0c"/>
<circle cx="194.4" cy="329.2" r="2.4" fill="#0c0c0c"/>
<circle cx="194.4" cy="346.4" r="2.4" fill="#0c0c0c"/>
<rect x="193.6" y="329" width="1.6" height="17" fill="#0c0c0c"/>
<circle cx="202.8" cy="329.2" r="2.4" fill="#0c0c0c"/>
<circle cx="202.8" cy="346.4" r="2.4" fill="#0c0c0c"/>
<rect x="202" y="329" width="1.6" height="17" fill="#0c0c0c"/>
<circle cx="210.8" cy="329.2" r="2.4" fill="#0c0c0c"/>
<circle cx="210.8" cy="346.4" r="2.4" fill="#0c0c0c"/>
<rect x="210" y="329" width="1.6" height="17" fill="#0c0c0c"/>
<circle cx="219.2" cy="329.2" r="2.4" fill="#0c0c0c"/>
<circle cx="219.2" cy="346.4" r="2.4" fill="#0c0c0c"/>
<rect x="218.4" y="329" width="1.6" height="17" fill="#0c0c0c"/>
<rect x="177.4" y="335.6" width="5.2" height="7.6" fill="#c9d23e" stroke="#3a3c10" stroke-width="0.5"/>
<rect x="192" y="335.6" width="5.2" height="7.6" fill="#c9d23e" stroke="#3a3c10" stroke-width="0.5"/>
<rect x="208" y="335.6" width="5.2" height="7.6" fill="#c9d23e" stroke="#3a3c10" stroke-width="0.5"/>
<rect x="186.4" y="335.6" width="4.6" height="7.6" fill="#8a5a3a"/>
<circle cx="203" cy="338" r="2.2" fill="#f0f0f0"/>
<rect x="222.6" y="327.6" width="19.6" height="17.4" fill="#101010"/>
<rect x="224.4" y="329.4" width="15.6" height="4" fill="#dcdcdc"/>
<rect x="226" y="336" width="10" height="2.4" fill="#f0f0f0"/>
<rect x="224.4" y="340.6" width="8" height="2.4" fill="#bbb"/>
<rect x="236" y="333" width="3.6" height="8" fill="#e0e0e0"/>
<rect x="246" y="328.8" width="3.8" height="19" fill="#b58654" stroke="#141414" stroke-width="1"/>
<rect x="245" y="346.6" width="5.8" height="2" fill="#151515"/>
<rect x="245" y="327.8" width="5.8" height="1.6" fill="#151515"/>
<rect x="255.4" y="327" width="10.6" height="23.4" fill="#141414"/>
<rect x="257" y="330.6" width="7.4" height="2.8" fill="#f0f0f0"/>
<rect x="257" y="335.2" width="7.4" height="2.8" fill="#f0f0f0"/>
<rect x="257" y="339.8" width="7.4" height="2.8" fill="#f0f0f0"/>
<rect x="257" y="344.6" width="7.4" height="2.8" fill="#f0f0f0"/>
<rect x="261.6" y="320.7" width="24.6" height="6.3" fill="#f4f4f4" stroke="#151515" stroke-width="1"/>
<rect x="290.6" y="328.2" width="7.6" height="18.4" fill="#131313"/>
<rect x="291.8" y="331" width="5.2" height="1.3" fill="#2f6e54"/>
<rect x="291.8" y="334" width="5.2" height="1.3" fill="#2f6e54"/>
<rect x="291.8" y="337" width="5.2" height="1.3" fill="#2f6e54"/>
<rect x="291.8" y="340" width="5.2" height="1.3" fill="#2f6e54"/>
<rect x="291.8" y="343" width="5.2" height="1.3" fill="#2f6e54"/>
<rect x="289.6" y="327.4" width="9.6" height="1.6" fill="#1a1a1a"/>
<rect x="289.6" y="345.6" width="9.6" height="1.6" fill="#1a1a1a"/>
<rect x="318.8" y="313.2" width="138.6" height="4.8" fill="#0d0d0d"/>
<rect x="318.8" y="332.4" width="138.6" height="4.6" fill="#0d0d0d"/>
<rect x="318.8" y="354.6" width="121.6" height="5" fill="#0d0d0d"/>
<rect x="318.8" y="313.2" width="4.4" height="46" fill="#0d0d0d"/>
<rect x="436" y="338" width="4.4" height="21" fill="#0d0d0d"/>
<rect x="453" y="313.2" width="4.4" height="24" fill="#0d0d0d"/>
<rect x="383" y="313.2" width="4" height="46" fill="#0d0d0d"/>
<circle cx="434.6" cy="319.6" r="1.3" fill="#ddd"/>
<circle cx="434.6" cy="357" r="1.3" fill="#ddd"/>
<rect x="357.4" y="315.6" width="16" height="14.6" fill="#e2e2e2" stroke="#2a2a2a" stroke-width="0.8"/>
<rect x="359.4" y="330.2" width="12" height="2.6" fill="#2f9a4e" stroke="#0f3d1a" stroke-width="0.5"/>
<rect x="361" y="328.8" width="8.8" height="1.6" fill="#49b96a"/>
<rect x="341.6" y="337" width="30" height="20.6" fill="#2a2a2a"/>
<rect x="343.6" y="338.4" width="3.2" height="18" fill="#e6e6e6"/>
<rect x="349" y="338.4" width="3.2" height="18" fill="#e6e6e6"/>
<rect x="354.4" y="338.4" width="3.2" height="18" fill="#e6e6e6"/>
<rect x="360" y="338.4" width="3.2" height="18" fill="#e6e6e6"/>
<rect x="365.4" y="338.4" width="3.2" height="18" fill="#e6e6e6"/>
<rect x="352.8" y="341" width="1.8" height="13" fill="#b08a3a"/>
<rect x="358.2" y="341" width="1.8" height="13" fill="#b08a3a"/>
<rect x="363.8" y="341" width="1.8" height="13" fill="#b08a3a"/>
<rect x="369" y="341" width="1.8" height="13" fill="#b08a3a"/>
<rect x="341.6" y="345.6" width="30" height="1.4" fill="#151515"/>
<rect x="341.6" y="350.6" width="30" height="1.4" fill="#151515"/>
<rect x="373" y="337" width="10" height="5.4" fill="#f0f0f0" stroke="#222" stroke-width="0.5"/>
<rect x="322.7" y="352" width="3" height="15.4" fill="#b9893d" stroke="#3a2a10" stroke-width="0.5"/>
<rect x="308.6" y="342.2" width="31.8" height="10.8" fill="#efefef" stroke="#161616" stroke-width="1.1" rx="1.6"/>
<rect x="310.1" y="343.6" width="28.8" height="2.4" fill="#fdfdfd"/>
<rect x="385.5" y="352" width="3" height="15.4" fill="#b9893d" stroke="#3a2a10" stroke-width="0.5"/>
<rect x="371" y="342.2" width="34" height="10.8" fill="#efefef" stroke="#161616" stroke-width="1.1" rx="1.6"/>
<rect x="372.5" y="343.6" width="31" height="2.4" fill="#fdfdfd"/>
<rect x="448.1" y="352" width="3" height="15.4" fill="#b9893d" stroke="#3a2a10" stroke-width="0.5"/>
<rect x="432.4" y="342.2" width="32.4" height="10.8" fill="#efefef" stroke="#161616" stroke-width="1.1" rx="1.6"/>
<rect x="433.9" y="343.6" width="29.4" height="2.4" fill="#fdfdfd"/>
<rect x="318.7" y="310.6" width="11.6" height="25.2" fill="#470d22" stroke="#14060b" stroke-width="0.8"/>
<rect x="320.5" y="313.4" width="8" height="4" fill="#b3243f"/>
<rect x="322.1" y="314.2" width="1.5" height="2" fill="#f3dfe4"/>
<rect x="325.5" y="314.2" width="1.5" height="2" fill="#f3dfe4"/>
<rect x="320.5" y="319.6" width="8" height="2" fill="#1c060c"/>
<rect x="320.9" y="324.2" width="7.2" height="4.2" fill="#e6dadd"/>
<rect x="320.9" y="326" width="7.2" height="1" fill="#470d22"/>
<rect x="323.9" y="324.2" width="1.2" height="4.2" fill="#470d22"/>
<rect x="320.5" y="330.4" width="8" height="3.2" fill="#a3223c"/>
<rect x="322.9" y="330.4" width="1" height="3.2" fill="#470d22"/>
<rect x="325.9" y="330.4" width="1" height="3.2" fill="#470d22"/>
<rect x="323.6" y="305" width="1.8" height="5.6" fill="#111"/>
<rect x="321.5" y="304" width="6" height="1.6" fill="#111"/>
<rect x="322.7" y="307.4" width="3.6" height="1.4" fill="#111"/>
<rect x="322.1" y="335.8" width="4.8" height="6.4" fill="#1a1a1a"/>
<rect x="381.2" y="310.6" width="11.6" height="25.2" fill="#470d22" stroke="#14060b" stroke-width="0.8"/>
<rect x="383" y="313.4" width="8" height="4" fill="#b3243f"/>
<rect x="384.6" y="314.2" width="1.5" height="2" fill="#f3dfe4"/>
<rect x="388" y="314.2" width="1.5" height="2" fill="#f3dfe4"/>
<rect x="383" y="319.6" width="8" height="2" fill="#1c060c"/>
<rect x="383.4" y="324.2" width="7.2" height="4.2" fill="#e6dadd"/>
<rect x="383.4" y="326" width="7.2" height="1" fill="#470d22"/>
<rect x="386.4" y="324.2" width="1.2" height="4.2" fill="#470d22"/>
<rect x="383" y="330.4" width="8" height="3.2" fill="#a3223c"/>
<rect x="385.4" y="330.4" width="1" height="3.2" fill="#470d22"/>
<rect x="388.4" y="330.4" width="1" height="3.2" fill="#470d22"/>
<rect x="386.1" y="305" width="1.8" height="5.6" fill="#111"/>
<rect x="384" y="304" width="6" height="1.6" fill="#111"/>
<rect x="385.2" y="307.4" width="3.6" height="1.4" fill="#111"/>
<rect x="384.6" y="335.8" width="4.8" height="6.4" fill="#1a1a1a"/>
<rect x="443.7" y="310.6" width="11.6" height="25.2" fill="#470d22" stroke="#14060b" stroke-width="0.8"/>
<rect x="445.5" y="313.4" width="8" height="4" fill="#b3243f"/>
<rect x="447.1" y="314.2" width="1.5" height="2" fill="#f3dfe4"/>
<rect x="450.5" y="314.2" width="1.5" height="2" fill="#f3dfe4"/>
<rect x="445.5" y="319.6" width="8" height="2" fill="#1c060c"/>
<rect x="445.9" y="324.2" width="7.2" height="4.2" fill="#e6dadd"/>
<rect x="445.9" y="326" width="7.2" height="1" fill="#470d22"/>
<rect x="448.9" y="324.2" width="1.2" height="4.2" fill="#470d22"/>
<rect x="445.5" y="330.4" width="8" height="3.2" fill="#a3223c"/>
<rect x="447.9" y="330.4" width="1" height="3.2" fill="#470d22"/>
<rect x="450.9" y="330.4" width="1" height="3.2" fill="#470d22"/>
<rect x="448.6" y="305" width="1.8" height="5.6" fill="#111"/>
<rect x="446.5" y="304" width="6" height="1.6" fill="#111"/>
<rect x="447.7" y="307.4" width="3.6" height="1.4" fill="#111"/>
<rect x="447.1" y="335.8" width="4.8" height="6.4" fill="#1a1a1a"/>
<path d="M660 90L744.5 44.8" stroke="#0e0e0e" stroke-width="4.6" fill="none"/>
<path d="M702 100L744.5 77.2" stroke="#0e0e0e" stroke-width="4.6" fill="none"/>
<path d="M702 117L744.5 94.2" stroke="#0e0e0e" stroke-width="4.6" fill="none"/>
<path d="M744.5 40L744.5 124" stroke="#0e0e0e" stroke-width="4.6" fill="none"/>
<path d="M737.2 61.4L728.2 58.7L720.8 88.3L729.8 91Z" fill="#f3f3f3"/>
<ellipse cx="724.5" cy="73.5" rx="10.2" ry="15.3" fill="#f3f3f3" stroke="#111" stroke-width="1" transform="rotate(14 724.5 73.5)"/>
<path d="M737.2 61.4L728.2 58.7L718.4 73.5L720.8 88.3L729.8 91Z" fill="#f3f3f3"/>
<path d="M737.2 61.4L728.2 58.7" stroke="#111" stroke-width="1" fill="none"/>
<path d="M729.8 91L720.8 88.3" stroke="#111" stroke-width="1" fill="none"/>
<ellipse cx="733.5" cy="76.2" rx="10.2" ry="15.3" fill="#d9cce2" stroke="#111" stroke-width="1.1" transform="rotate(14 733.5 76.2)"/>
<ellipse cx="733.5" cy="76.2" rx="2.1" ry="3" fill="#1c1c1c" transform="rotate(14 733.5 76.2)"/>
<path d="M733.5 76.2L743.1 80.8" stroke="#4a3410" stroke-width="2.6" fill="none"/>
<path d="M733.5 76.2L742.9 80.7" stroke="#d9a858" stroke-width="1.5" fill="none"/>
<circle cx="733.9" cy="76.4" r="1.2" fill="#e9d9b0" stroke="#222" stroke-width="0.5"/>
<path d="M757.8 47L757.8 134" stroke="#0e0e0e" stroke-width="4.6" fill="none"/>
<path d="M744.5 42.5L757.8 49.6" stroke="#0e0e0e" stroke-width="4.6" fill="none"/>
<path d="M673 97.2L700 82.6" stroke="#0e0e0e" stroke-width="4.6" fill="none"/>
<path d="M712 76.4L757.8 51.8" stroke="#0e0e0e" stroke-width="4.6" fill="none"/>
<path d="M715 107.6L757.8 84.6" stroke="#0e0e0e" stroke-width="4.6" fill="none"/>
<path d="M715 124.6L757.8 101.6" stroke="#0e0e0e" stroke-width="4.6" fill="none"/>
<path d="M744.5 86L757.8 93" stroke="#0e0e0e" stroke-width="4.6" fill="none"/>
<path d="M757.8 105.6L773 114.4L776.3 118.6L776.3 145" stroke="#0e0e0e" stroke-width="4.8" fill="none" stroke-linejoin="round"/>
<path d="M746 128L771 142.6" stroke="#0e0e0e" stroke-width="4.6" fill="none"/>
<path d="M757.8 118L770 125" stroke="#0e0e0e" stroke-width="4.2" fill="none"/>
<path d="M702 52L702 154" stroke="#16241a" stroke-width="5.0" fill="none"/>
<path d="M698.6 47.6L705 44.6L707.6 46.4L707.6 52L701.4 55.2L698.6 53.4Z" fill="#2a9a50" stroke="#0f3d1a" stroke-width="0.7"/>
<path d="M699.6 48.2L704.8 45.8L706.6 47L701.4 49.6Z" fill="#58d486"/>
<ellipse cx="710.1" cy="58.8" rx="10.2" ry="15.3" fill="#cfc0d8" stroke="#111" stroke-width="1" transform="rotate(14 710.1 58.8)"/>
<ellipse cx="716.6" cy="61.2" rx="10.2" ry="15.3" fill="#d9cce2" stroke="#111" stroke-width="1.1" transform="rotate(14 716.6 61.2)"/>
<circle cx="716.6" cy="61.2" r="1.6" fill="#caa24a" stroke="#222" stroke-width="0.6"/>
<path d="M718.5 61.7L720.3 62.1" stroke="#222" stroke-width="1" fill="none"/>
<path d="M717.7 63.3L718.8 65.3" stroke="#222" stroke-width="1" fill="none"/>
<path d="M716.3 63.8L715.9 66.1" stroke="#222" stroke-width="1" fill="none"/>
<path d="M715 62.7L713.5 64.1" stroke="#222" stroke-width="1" fill="none"/>
<path d="M714.7 60.7L712.9 60.3" stroke="#222" stroke-width="1" fill="none"/>
<path d="M715.5 59.1L714.4 57.1" stroke="#222" stroke-width="1" fill="none"/>
<path d="M716.9 58.6L717.3 56.3" stroke="#222" stroke-width="1" fill="none"/>
<path d="M718.2 59.7L719.7 58.3" stroke="#222" stroke-width="1" fill="none"/>
<path d="M673 128L734 96" stroke="#0e0e0e" stroke-width="4.2" fill="none"/>
<path d="M673 143L700 129" stroke="#0e0e0e" stroke-width="4.2" fill="none"/>
<path d="M660 136L702 114.5" stroke="#0e0e0e" stroke-width="4.2" fill="none"/>
<path d="M673 156L735 124.5" stroke="#0e0e0e" stroke-width="4.6" fill="none"/>
<path d="M702 152L744.5 130" stroke="#0e0e0e" stroke-width="4.6" fill="none"/>
<path d="M686 120.5L716 136.5" stroke="#0e0e0e" stroke-width="4.0" fill="none"/>
<path d="M700 113L730 129" stroke="#0e0e0e" stroke-width="4.0" fill="none"/>
<path d="M692 123L724 106.5L738 114L706 130.6Z" fill="#1a1a1a"/>
<path d="M696 121.2L708.4 127.8" stroke="#5a3a10" stroke-width="2.6" fill="none"/>
<path d="M696 121.2L708.2 127.7" stroke="#e09a3a" stroke-width="1.5" fill="none"/>
<path d="M701.4 118.3L713.8 124.9" stroke="#5a3a10" stroke-width="2.6" fill="none"/>
<path d="M701.4 118.3L713.6 124.8" stroke="#e09a3a" stroke-width="1.5" fill="none"/>
<path d="M706.8 115.4L719.2 122" stroke="#5a3a10" stroke-width="2.6" fill="none"/>
<path d="M706.8 115.4L719 121.9" stroke="#e09a3a" stroke-width="1.5" fill="none"/>
<path d="M712.2 112.5L724.6 119.1" stroke="#5a3a10" stroke-width="2.6" fill="none"/>
<path d="M712.2 112.5L724.4 119" stroke="#e09a3a" stroke-width="1.5" fill="none"/>
<path d="M717.6 109.6L730 116.2" stroke="#5a3a10" stroke-width="2.6" fill="none"/>
<path d="M717.6 109.6L729.8 116.1" stroke="#e09a3a" stroke-width="1.5" fill="none"/>
<path d="M660 88L660 150" stroke="#0e0e0e" stroke-width="4.6" fill="none"/>
<path d="M673 96L673 157" stroke="#0e0e0e" stroke-width="4.6" fill="none"/>
<path d="M660 89.6L673 96.6" stroke="#0e0e0e" stroke-width="4.2" fill="none"/>
<path d="M660 128L673 135" stroke="#0e0e0e" stroke-width="4.0" fill="none"/>
<path d="M660 148L673 155" stroke="#0e0e0e" stroke-width="4.0" fill="none"/>
<path d="M693.1 87.4L684.1 84.7L676.7 114.3L685.7 117Z" fill="#f3f3f3"/>
<ellipse cx="680.4" cy="99.5" rx="10.2" ry="15.3" fill="#f3f3f3" stroke="#111" stroke-width="1" transform="rotate(14 680.4 99.5)"/>
<path d="M693.1 87.4L684.1 84.7L674.3 99.5L676.7 114.3L685.7 117Z" fill="#f3f3f3"/>
<path d="M693.1 87.4L684.1 84.7" stroke="#111" stroke-width="1" fill="none"/>
<path d="M685.7 117L676.7 114.3" stroke="#111" stroke-width="1" fill="none"/>
<ellipse cx="689.4" cy="102.2" rx="10.2" ry="15.3" fill="#d9cce2" stroke="#111" stroke-width="1.1" transform="rotate(14 689.4 102.2)"/>
<ellipse cx="689.4" cy="102.2" rx="2.1" ry="3" fill="#1c1c1c" transform="rotate(14 689.4 102.2)"/>
<path d="M689.4 102.2L699 106.8" stroke="#4a3410" stroke-width="2.6" fill="none"/>
<path d="M689.4 102.2L698.8 106.7" stroke="#d9a858" stroke-width="1.5" fill="none"/>
<circle cx="689.8" cy="102.4" r="1.2" fill="#e9d9b0" stroke="#222" stroke-width="0.5"/>
<path d="M781.5 35.8L772.5 33.1L765.1 62.7L774.1 65.4Z" fill="#f3f3f3"/>
<ellipse cx="768.8" cy="47.9" rx="10.2" ry="15.3" fill="#f3f3f3" stroke="#111" stroke-width="1" transform="rotate(14 768.8 47.9)"/>
<path d="M781.5 35.8L772.5 33.1L762.7 47.9L765.1 62.7L774.1 65.4Z" fill="#f3f3f3"/>
<path d="M781.5 35.8L772.5 33.1" stroke="#111" stroke-width="1" fill="none"/>
<path d="M774.1 65.4L765.1 62.7" stroke="#111" stroke-width="1" fill="none"/>
<ellipse cx="777.8" cy="50.6" rx="10.2" ry="15.3" fill="#d9cce2" stroke="#111" stroke-width="1.1" transform="rotate(14 777.8 50.6)"/>
<ellipse cx="777.8" cy="50.6" rx="2.1" ry="3" fill="#1c1c1c" transform="rotate(14 777.8 50.6)"/>
<path d="M777.8 50.6L787.4 55.2" stroke="#4a3410" stroke-width="2.6" fill="none"/>
<path d="M777.8 50.6L787.2 55.1" stroke="#d9a858" stroke-width="1.5" fill="none"/>
<circle cx="778.2" cy="50.8" r="1.2" fill="#e9d9b0" stroke="#222" stroke-width="0.5"/>
<path d="M739.5 119.6L730.5 116.9L723.1 146.5L732.1 149.2Z" fill="#f3f3f3"/>
<ellipse cx="726.8" cy="131.7" rx="10.2" ry="15.3" fill="#f3f3f3" stroke="#111" stroke-width="1" transform="rotate(14 726.8 131.7)"/>
<path d="M739.5 119.6L730.5 116.9L720.7 131.7L723.1 146.5L732.1 149.2Z" fill="#f3f3f3"/>
<path d="M739.5 119.6L730.5 116.9" stroke="#111" stroke-width="1" fill="none"/>
<path d="M732.1 149.2L723.1 146.5" stroke="#111" stroke-width="1" fill="none"/>
<ellipse cx="735.8" cy="134.4" rx="10.2" ry="15.3" fill="#d9cce2" stroke="#111" stroke-width="1.1" transform="rotate(14 735.8 134.4)"/>
<ellipse cx="735.8" cy="134.4" rx="2.1" ry="3" fill="#1c1c1c" transform="rotate(14 735.8 134.4)"/>
<path d="M735.8 134.4L745.4 139" stroke="#4a3410" stroke-width="2.6" fill="none"/>
<path d="M735.8 134.4L745.2 138.9" stroke="#d9a858" stroke-width="1.5" fill="none"/>
<circle cx="736.2" cy="134.6" r="1.2" fill="#e9d9b0" stroke="#222" stroke-width="0.5"/>
<circle cx="659.9" cy="83.5" r="1.6" fill="#111"/>
<path d="M659.9 83.5L662.5 86.5" stroke="#111" stroke-width="1.4" fill="none"/>
<path d="M661.5 84.5L667.5 87.5L667.5 91.5L661.5 88.5Z" fill="#c4246a" stroke="#300a1a" stroke-width="0.6"/>
<path d="M667.5 88L672 90.3L672 93.5L667.5 91.3Z" fill="#2a2a2a"/>
<rect x="668.9" y="89.7" width="1.8" height="2.4" fill="#5ac89a"/>
<circle cx="745.2" cy="34.6" r="1.6" fill="#111"/>
<path d="M745.2 34.6L747.8 37.6" stroke="#111" stroke-width="1.4" fill="none"/>
<path d="M746.8 35.6L752.8 38.6L752.8 42.6L746.8 39.6Z" fill="#c4246a" stroke="#300a1a" stroke-width="0.6"/>
<path d="M752.8 39.1L757.3 41.4L757.3 44.6L752.8 42.4Z" fill="#2a2a2a"/>
<rect x="754.2" y="40.8" width="1.8" height="2.4" fill="#5ac89a"/>
<circle cx="659.8" cy="82.8" r="1.7" fill="#111"/>
<circle cx="744.8" cy="34.2" r="1.7" fill="#111"/>
<path d="M688.8 158L688.8 196L691 200L697 199" stroke="#0e0e0e" stroke-width="6" fill="none" stroke-linejoin="round" stroke-linecap="round"/>
<path d="M692 201.5L712 190.6" stroke="#0e0e0e" stroke-width="5" fill="none"/>
<ellipse cx="690.4" cy="202" rx="4" ry="1.6" fill="#d8d8d8" stroke="#111" stroke-width="0.6"/>
<path d="M596 206.4L682.6 160.6L647 143.4L560.6 189Z" fill="#dadada" stroke="#222" stroke-width="0.8"/>
<path d="M596 206.4L682.6 160.6L682.6 164.6L596 210.6Z" fill="#1a1a1a"/>
<path d="M598 211L682.6 165L682.6 212L632 238.6L598 221Z" fill="#17171a"/>
<path d="M644.2 191.4L679.8 171.4L679.8 209.6L644.2 229.8Z" fill="#5c577c" stroke="#101018" stroke-width="0.8"/>
<path d="M611.4 209.6L639.2 194.6L639.2 228L626 235L611.4 227Z" fill="#5c577c" stroke="#101018" stroke-width="0.8"/>
<path d="M645.2 192.8L679 173.8L679 176L645.2 195Z" fill="#6f6b92"/>
<rect x="647.2" y="205" width="1.6" height="6" fill="#d0d0e0" stroke="#111" stroke-width="0.5"/>
<rect x="635.4" y="211" width="1.6" height="5.4" fill="#222" stroke="#000" stroke-width="0.4"/>
<path d="M622 192.8L640 202" stroke="#8a8a8a" stroke-width="0.7" fill="none"/>
<path d="M622 192.8L657 174" stroke="#9a9a9a" stroke-width="0.6" fill="none"/>
<path d="M566 191.6L600 173.8L624 186.4L590 204.4Z" fill="#c9c9c9"/>
<path d="M583.6 203.6L604 193L613 197.6L592.6 208.4Z" fill="#8e8e98" stroke="#222" stroke-width="0.6"/>
<path d="M553 195.4L566 188.6L596 205L596 210.6L588 214.4Z" fill="#1c1c1c"/>
<path d="M560 195.2L567 191.6L592 205.2L585 208.8Z" fill="#77777d"/>
<path d="M562 180L611 153L622 160L622 172L578 196L562 188Z" fill="#141414"/>
<path d="M561.6 179.2L611.4 151.8L617.2 155.6L567.6 183Z" fill="#f2f2f2" stroke="#111" stroke-width="0.8"/>
<path d="M561.6 179.2L567.6 183L567.6 190.6L561.6 187Z" fill="#ececec" stroke="#111" stroke-width="0.8"/>
<path d="M606 155L611.4 151.8L617.2 155.6L617.2 163L611.6 166Z" fill="#e9e9f2" stroke="#111" stroke-width="0.7"/>
<ellipse cx="571" cy="180.2" rx="2.6" ry="2.1" fill="#1c1c1c" stroke="#000" stroke-width="0.5"/>
<ellipse cx="571.4" cy="178.8" rx="1.7" ry="1.2" fill="#555"/>
<rect x="569.4" y="180.2" width="3.6" height="7" fill="#0c0c0c"/>
<ellipse cx="578" cy="176.3" rx="2.6" ry="2.1" fill="#1c1c1c" stroke="#000" stroke-width="0.5"/>
<ellipse cx="578.4" cy="174.9" rx="1.7" ry="1.2" fill="#555"/>
<rect x="576.4" y="176.3" width="3.6" height="7" fill="#0c0c0c"/>
<ellipse cx="585" cy="172.5" rx="2.6" ry="2.1" fill="#1c1c1c" stroke="#000" stroke-width="0.5"/>
<ellipse cx="585.4" cy="171.1" rx="1.7" ry="1.2" fill="#555"/>
<rect x="583.4" y="172.5" width="3.6" height="7" fill="#0c0c0c"/>
<ellipse cx="592" cy="168.6" rx="2.6" ry="2.1" fill="#1c1c1c" stroke="#000" stroke-width="0.5"/>
<ellipse cx="592.4" cy="167.2" rx="1.7" ry="1.2" fill="#555"/>
<rect x="590.4" y="168.6" width="3.6" height="7" fill="#0c0c0c"/>
<ellipse cx="599" cy="164.8" rx="2.6" ry="2.1" fill="#1c1c1c" stroke="#000" stroke-width="0.5"/>
<ellipse cx="599.4" cy="163.4" rx="1.7" ry="1.2" fill="#555"/>
<rect x="597.4" y="164.8" width="3.6" height="7" fill="#0c0c0c"/>
<ellipse cx="606" cy="160.9" rx="2.6" ry="2.1" fill="#1c1c1c" stroke="#000" stroke-width="0.5"/>
<ellipse cx="606.4" cy="159.5" rx="1.7" ry="1.2" fill="#555"/>
<rect x="604.4" y="160.9" width="3.6" height="7" fill="#0c0c0c"/>
<rect x="579" y="187.6" width="2" height="2.4" fill="#d8d84a"/>
<rect x="586" y="183.8" width="2" height="2.4" fill="#e8e8e8"/>
<rect x="593" y="179.9" width="2" height="2.4" fill="#d8d84a"/>
<rect x="600" y="176" width="2" height="2.4" fill="#e8e8e8"/>
<rect x="607" y="172.2" width="2" height="2.4" fill="#d8d84a"/>
<path d="M603 163L615 156.6L619 159L607 165.6Z" fill="#1d6e8e"/>
<path d="M617.6 162.8L628.6 168.8" stroke="#4a3414" stroke-width="3.2" fill="none"/>
<path d="M617.6 162.8L628.4 168.6" stroke="#d9b07a" stroke-width="1.8" fill="none"/>
<path d="M620.6 160.4L631.6 166.4" stroke="#4a3414" stroke-width="3.0" fill="none"/>
<path d="M620.6 160.4L631.4 166.2" stroke="#c89a5a" stroke-width="1.6" fill="none"/>
<path d="M579.6 191.4L615.6 172.2L620.4 174.8L584.4 194.4Z" fill="#fafafa" stroke="#111" stroke-width="0.8"/>
<path d="M584.4 194.4L620.4 174.8L620.4 187L584.4 206.6Z" fill="#c9bdd9" stroke="#111" stroke-width="0.8"/>
<path d="M579.6 191.4L584.4 194.4L584.4 206.6L579.6 203.8Z" fill="#f6f6f6" stroke="#111" stroke-width="0.8"/>
<path d="M622.6 158L628.2 155L632.6 157.4L627 160.6Z" fill="#f0f0f0" stroke="#111" stroke-width="0.7"/>
<path d="M622.6 158L627 160.6L627 166L622.6 163.6Z" fill="#1a1a1a"/>
<path d="M627 160.6L632.6 157.4L632.6 163L627 166Z" fill="#c9c9c9" stroke="#111" stroke-width="0.6"/>
<path d="M630.6 162L636.2 159L640.6 161.4L635 164.6Z" fill="#f0f0f0" stroke="#111" stroke-width="0.7"/>
<path d="M630.6 162L635 164.6L635 170L630.6 167.6Z" fill="#1a1a1a"/>
<path d="M635 164.6L640.6 161.4L640.6 167L635 170Z" fill="#c9c9c9" stroke="#111" stroke-width="0.6"/>
<path d="M639 166.4L644.6 163.4L649 165.8L643.4 169Z" fill="#f0f0f0" stroke="#111" stroke-width="0.7"/>
<path d="M639 166.4L643.4 169L643.4 174.4L639 172Z" fill="#1a1a1a"/>
<path d="M643.4 169L649 165.8L649 171.4L643.4 174.4Z" fill="#c9c9c9" stroke="#111" stroke-width="0.6"/>
<rect x="630.2" y="169.6" width="3.4" height="7" fill="#1a1a1a"/>
<rect x="621" y="166" width="2.6" height="6" fill="#1a1a1a"/>
<path d="M649.2 159.6L652.6 157.8L652.6 167.6L649.2 169.4Z" fill="#bdbdbd" stroke="#111" stroke-width="0.7"/>
<ellipse cx="652.4" cy="160.6" rx="2.4" ry="3.4" fill="#2a2a2a" stroke="#000" stroke-width="0.5"/>
<ellipse cx="655.6" cy="161.4" rx="1.8" ry="2.6" fill="#2d5a44"/>
<path d="M660.4 146L666 143L666 153.6L660.4 156.4Z" fill="#c8c8c8" stroke="#111" stroke-width="0.7"/>
<path d="M656 147L659.6 145.2L659.6 150L656 151.8Z" fill="#3a3a3a"/>
<rect x="631.4" y="139" width="7" height="15.6" fill="#151515"/>
<rect x="633.6" y="140" width="1.4" height="14" fill="#4a4a4a"/>
<path d="M621.7 127L640.7 115.9L645.5 119.6L645.5 132.3L626.9 142.9L622.2 139.7Z" fill="#f3f3f3" stroke="#0e0e0e" stroke-width="1.2"/>
<path d="M626.9 130.4L645.5 119.6L645.5 132.3L626.9 142.9Z" fill="#bdbdc3" stroke="#0e0e0e" stroke-width="1.3"/>
<path d="M632.8 130.6L643.4 124.6L643.4 131.4L632.8 137.4Z" fill="#d9d9de" stroke="#1a1a1a" stroke-width="0.9"/>
<path d="M628.4 131.6L631.4 130L631.4 139L628.4 140.6Z" fill="#8e8e96"/>
<circle cx="629.8" cy="134.2" r="0.8" fill="#1a1a1a"/>
<circle cx="629.8" cy="137.6" r="0.8" fill="#1a1a1a"/>
<path d="M648.2 137.6L653.6 134.8L653.6 147.4L648.2 150Z" fill="#161616"/>
<path d="M649.6 139.6L652.4 138.2L652.4 145.6L649.6 147Z" fill="#3a4a44"/>
<path d="M596.6 217.4L610.8 211.8L639.2 229.8L626.6 236.6Z" fill="#2fa4df" stroke="#0d4468" stroke-width="0.8"/>
<path d="M611.6 221.6L617.6 218.6L625.6 223.6L619.6 226.8Z" fill="#4a4a4e" stroke="#0d4468" stroke-width="0.7"/>
<path d="M604.2 217.6L607 217.6" stroke="#0d3a78" stroke-width="1" fill="none"/>
<path d="M605.6 216.4L605.6 218.8" stroke="#0d3a78" stroke-width="1" fill="none"/>
<path d="M628.2 231.4L631 231.4" stroke="#0d3a78" stroke-width="1" fill="none"/>
<path d="M629.6 230.2L629.6 232.6" stroke="#0d3a78" stroke-width="1" fill="none"/>
<path d="M730.2 189.8L785.5 221.2L783.5 267.2L728.6 233.8Z" fill="#151515"/>
<path d="M732.9 195.6L783.1 224L781.9 262.6L731.9 233Z" fill="#9c9c9f"/>
<path d="M747.5 204L783.1 224L782.9 234L747.5 214Z" fill="#8a8a8e"/>
<path d="M747.5 214L782.9 234L782.5 248L747.5 228Z" fill="#b4b4b8"/>
<path d="M733.5 196.6L743.5 202.2L742.9 234L732.7 228Z" fill="#58585c" stroke="#1a1a1a" stroke-width="0.7"/>
<path d="M733.5 207L743.5 212.6" stroke="#1a1a1a" stroke-width="1" fill="none"/>
<path d="M733.1 217.4L743.1 223" stroke="#1a1a1a" stroke-width="1" fill="none"/>
<path d="M752.5 237.6L760.5 233.6L768.5 238.2L760.5 242.2Z" fill="#f4f4f4"/>
<path d="M768.5 237L775.5 233.4L782.1 237L781.9 245.6L774.5 249Z" fill="#d468cc"/>
<path d="M769.5 249L781.9 243L781.7 250L772.5 254.4Z" fill="#f2f2f2"/>
<path d="M731.1 190L729.7 234" stroke="#111" stroke-width="2.8" fill="none"/>
<path d="M746.5 199.6L745.5 243" stroke="#111" stroke-width="3" fill="none"/>
<path d="M784.3 222L782.7 267.6" stroke="#111" stroke-width="3.2" fill="none"/>
<path d="M728.9 233L782.9 264.6" stroke="#111" stroke-width="3" fill="none"/>
<rect x="744.9" y="219" width="3" height="5" fill="#2a2a2a"/>
<path d="M764.5 210.6L763.9 253" stroke="#3a3a3a" stroke-width="1.2" fill="none"/>
<path d="M785.5 221.2L813.5 205.8L812.5 246.8L783.5 267.2Z" fill="#181818"/>
<path d="M787.5 225.6L799.9 219L799.1 261L786.5 268Z" fill="#6a4a76" stroke="#2a1a30" stroke-width="0.6"/>
<path d="M804.1 217L812.5 212.6L812.1 241L803.7 245.6Z" fill="#6a4a76" stroke="#2a1a30" stroke-width="0.6"/>
<rect x="791.1" y="240.6" width="1.8" height="5" fill="#d8c8e0" stroke="#222" stroke-width="0.5"/>
<path d="M730.2 189.8L785.5 221.2L813.5 205.8L758.2 174.4Z" fill="#a2a2a2" stroke="#161616" stroke-width="1"/>
<path d="M730.2 189.8L785.5 221.2L785.5 224.2L730.2 192.8Z" fill="#151515"/>
<path d="M785.5 221.2L813.5 205.8L813.5 208.8L785.5 224.2Z" fill="#151515"/>
<path d="M730.1 235L730.1 238" stroke="#111" stroke-width="2" fill="none"/>
<ellipse cx="730.1" cy="239" rx="2.8" ry="1.4" fill="#111"/>
<path d="M782.9 268L782.9 271" stroke="#111" stroke-width="2" fill="none"/>
<ellipse cx="782.9" cy="272" rx="2.8" ry="1.4" fill="#111"/>
<path d="M812.1 248L812.1 251" stroke="#111" stroke-width="2" fill="none"/>
<ellipse cx="812.1" cy="252" rx="2.8" ry="1.4" fill="#111"/>
<path d="M710.5 178.4L743.5 160.6L757.5 168L724.5 186Z" fill="#9c9c9c" stroke="#1a1a1a" stroke-width="0.8"/>
<path d="M710.5 178.4L724.5 186L724.5 198L710.5 190.4Z" fill="#161616"/>
<path d="M724.5 186L733.5 181.2L733.5 188L724.5 193Z" fill="#222"/>
<path d="M721.9 168.6L739.5 159.2L746.5 163L728.9 172.6Z" fill="#dcb4e4" stroke="#3a2a40" stroke-width="0.7"/>
<path d="M721.9 168.6L728.9 172.6L728.9 177L721.9 173Z" fill="#a888b0" stroke="#3a2a40" stroke-width="0.6"/>
<path d="M728.9 172.6L746.5 163L746.5 167.4L728.9 177Z" fill="#b898c4" stroke="#3a2a40" stroke-width="0.6"/>
<path d="M743.5 162L750.5 158.4L755.5 161L755.5 167L748.5 170.6Z" fill="#8a8a8a" stroke="#222" stroke-width="0.6"/>
<rect x="741.5" y="175" width="2.2" height="8" fill="#1c1c1c"/>
<rect x="747.1" y="178" width="2.2" height="8" fill="#1c1c1c"/>
<rect x="735.5" y="172" width="2.2" height="8" fill="#1c1c1c"/>
<path d="M767.5 175L796.5 161L798.1 187L782.5 200.6L769.5 198Z" fill="#15151b"/>
<path d="M754.1 168L765.5 174.6L765.5 182L754.1 175.6Z" fill="#2a2a30"/>
<ellipse cx="784.1" cy="185" rx="8.6" ry="9.6" fill="#0a0a0a"/>
<ellipse cx="782.5" cy="183.6" rx="3.6" ry="4.2" fill="#4a4a4a"/>
<path d="M771.5 194L777.5 191L780.5 198L774.5 201Z" fill="#6a6e3a"/>
<path d="M753.1 166L753.1 193.6" stroke="#101018" stroke-width="3.2" fill="none"/>
<path d="M752.8 166L752.8 193.6" stroke="#34344c" stroke-width="0.8160000000000001" fill="none"/>
<path d="M759.1 169.6L759.1 197.6" stroke="#101018" stroke-width="3.2" fill="none"/>
<path d="M758.8 169.6L758.8 197.6" stroke="#34344c" stroke-width="0.8160000000000001" fill="none"/>
<path d="M770.1 174.6L770.1 203.6" stroke="#101018" stroke-width="3.5999999999999996" fill="none"/>
<path d="M769.8 174.6L769.8 203.6" stroke="#34344c" stroke-width="0.952" fill="none"/>
<path d="M795.3 161L795.3 187" stroke="#101018" stroke-width="3.4000000000000004" fill="none"/>
<path d="M795 161L795 187" stroke="#34344c" stroke-width="0.8840000000000001" fill="none"/>
<path d="M764.1 172.6L764.1 200" stroke="#101018" stroke-width="3.0" fill="none"/>
<path d="M763.8 172.6L763.8 200" stroke="#34344c" stroke-width="0.7480000000000001" fill="none"/>
<ellipse cx="753.1" cy="194" rx="2" ry="1.1" fill="#0c0c0c"/>
<ellipse cx="759.1" cy="198" rx="2" ry="1.1" fill="#0c0c0c"/>
<ellipse cx="770.1" cy="204" rx="2" ry="1.1" fill="#0c0c0c"/>
<ellipse cx="795.3" cy="187.6" rx="2" ry="1.1" fill="#0c0c0c"/>
<path d="M753.3 164.6L784.3 150.6L798.1 157.6L766.5 173Z" fill="#dedede" stroke="#111" stroke-width="0.9"/>
<path d="M753.3 164.6L766.5 173L766.5 175.8L753.3 167.4Z" fill="#f6f6f6" stroke="#111" stroke-width="0.5"/>
<path d="M766.5 173L798.1 157.6L798.1 160.4L766.5 175.8Z" fill="#fafafa" stroke="#111" stroke-width="0.5"/>
<path d="M755.5 164.4L783.5 151.8L794.5 157.4L766.5 170.6Z" fill="#2a2a2e"/>
<rect x="757.5" y="155" width="3.2" height="12" fill="#202024" stroke="#111" stroke-width="0.6"/>
<ellipse cx="759.1" cy="155" rx="2.1" ry="1" fill="#888"/>
<rect x="758.3" y="151" width="1.6" height="4" fill="#bdbdbd" stroke="#111" stroke-width="0.6"/>
<ellipse cx="759.1" cy="151" rx="1.3" ry="1" fill="#2a2a2a"/>
<rect x="788.9" y="146.4" width="3.2" height="12" fill="#202024" stroke="#111" stroke-width="0.6"/>
<ellipse cx="790.5" cy="146.4" rx="2.1" ry="1" fill="#888"/>
<rect x="789.7" y="141.8" width="1.6" height="4.6" fill="#bdbdbd" stroke="#111" stroke-width="0.6"/>
<ellipse cx="790.5" cy="141.8" rx="1.3" ry="1" fill="#2a2a2a"/>
<rect x="782.1" y="146" width="2.8" height="10" fill="#2e2e34" stroke="#111" stroke-width="0.6"/>
<ellipse cx="783.5" cy="146" rx="1.9" ry="1" fill="#999"/>
<rect x="764.4" y="155" width="3.4" height="14" fill="#d8d8d8" stroke="#111" stroke-width="0.6"/>
<ellipse cx="766.1" cy="155" rx="2.2" ry="1" fill="#fafafa"/>
<rect x="765.1" y="152" width="2" height="3" fill="#333" stroke="#111" stroke-width="0.6"/>
<ellipse cx="766.1" cy="152" rx="1.5" ry="1" fill="#2a2a2a"/>
<rect x="773.1" y="138" width="7.6" height="30" fill="#bcbcbc" stroke="#111" stroke-width="0.8"/>
<rect x="774.7" y="138" width="2" height="30" fill="#ececec"/>
<rect x="778.3" y="142" width="1.8" height="25" fill="#6a6a6a"/>
<rect x="771.9" y="148" width="10" height="3" fill="#1c1c1c"/>
<rect x="771.9" y="159" width="10" height="2.6" fill="#1c1c1c"/>
<ellipse cx="780.9" cy="140.6" rx="2.6" ry="2.2" fill="#f4f4f4" stroke="#222" stroke-width="0.6"/>
<path d="M779.9 129.6L779.9 138" stroke="#111" stroke-width="1.8" fill="none"/>
<circle cx="780.9" cy="128.6" r="1.8" fill="#111"/>
<rect x="786.1" y="152" width="3.6" height="7" fill="#1c1c1c"/>
<path d="M789.5 198L805.5 189.6L823.5 200L823.5 211L807.5 220L789.5 209Z" fill="#131313"/>
<path d="M792.1 207.6L800.5 203.6L817.1 213.4L808.5 217.6Z" fill="#e9e9e9" stroke="#111" stroke-width="0.6"/>
<path d="M795.5 198L803.5 194L811.5 198.6L803.5 202.6Z" fill="#3a3a3a"/>
<ellipse cx="822.1" cy="209.6" rx="2.4" ry="2.4" fill="#a0a4e0" stroke="#222" stroke-width="0.6"/>
<path d="M810.5 217.4L820.5 212.6L824.5 215L814.5 219.8Z" fill="#f0f0f0" stroke="#222" stroke-width="0.5"/>
<path d="M818.1 195L818.1 210" stroke="#222" stroke-width="1.8" fill="none"/>
<path d="M796.8 178.6L809.3 171.8L838.8 191.1L826.4 197.9Z" fill="#e58f86" stroke="#3a1a1a" stroke-width="0.9"/>
<path d="M796.8 178.6L826.4 197.9L826.4 200.2L796.8 181Z" fill="#7a3a3a"/>
<path d="M810.5 182.6L817.5 178.8L826.1 184.4L819.1 188.4Z" fill="#141450"/>
<path d="M812.1 182.6L817.5 179.8L824.3 184.4L819.1 187.4Z" fill="#2038d8"/>
<path d="M802.9 177.6L806.1 179.2" stroke="#3a1414" stroke-width="1.4" fill="none"/>
<path d="M828.5 193.4L831.7 195" stroke="#3a1414" stroke-width="1.4" fill="none"/>
<path d="M818.1 236.8L818.1 280.8" stroke="#0f0f0f" stroke-width="4.800000000000001" fill="none"/>
<path d="M802.1 231.2L802.1 273.2" stroke="#0f0f0f" stroke-width="4.0" fill="none"/>
<path d="M864.3 201.6L864.3 249.6" stroke="#0f0f0f" stroke-width="4.4" fill="none"/>
<path d="M849.2 205L849.2 242" stroke="#0f0f0f" stroke-width="4.0" fill="none"/>
<path d="M818.1 265.8L848.2 242.5" stroke="#0f0f0f" stroke-width="4.4" fill="none"/>
<path d="M802.1 261.2L818.1 268.8" stroke="#0f0f0f" stroke-width="3.6000000000000005" fill="none"/>
<path d="M849.2 230L864.3 237.2" stroke="#0f0f0f" stroke-width="4.0" fill="none"/>
<path d="M818.1 280.8L818.1 283.4" stroke="#0f0f0f" stroke-width="1.8" fill="none"/>
<ellipse cx="818.1" cy="284.2" rx="2.8" ry="1.4" fill="#0f0f0f"/>
<path d="M864.3 249.6L864.3 252.2" stroke="#0f0f0f" stroke-width="1.8" fill="none"/>
<ellipse cx="864.3" cy="253" rx="2.8" ry="1.4" fill="#0f0f0f"/>
<path d="M802.1 273.2L802.1 275.8" stroke="#0f0f0f" stroke-width="1.8" fill="none"/>
<ellipse cx="802.1" cy="276.6" rx="2.8" ry="1.4" fill="#0f0f0f"/>
<path d="M800.3 229.4L817.6 236.8L842.5 219.2L842.5 234.6L817.6 252.8L800.3 245.4Z" fill="#151515"/>
<path d="M804.7 236L815.7 241L815.7 257L804.7 252Z" fill="#5d3e68" stroke="#1a1020" stroke-width="0.5"/>
<path d="M826 233.1L839 223.9L839 237.5L826 246.7Z" fill="#a47272" stroke="#1a1010" stroke-width="0.6"/>
<path d="M828.1 236.5L839 228.9L839 237.5L828.1 245.1Z" fill="#8a5c5c"/>
<path d="M799.9 228L852.1 191.1L866.4 197.8L866.4 202.4L814.7 238.7L799.9 232.4Z" fill="#101010"/>
<path d="M801.9 227L852.1 192.5L864.1 198L813.9 233.1Z" fill="#208a30"/>
<path d="M801.9 227L852.1 192.5L853.6 193.4L803.6 227.9Z" fill="#3aa548"/>
<path d="M866.4 199.4L874.5 194.5L874.5 217.3L866.4 222.2Z" fill="#645670" stroke="#101010" stroke-width="1.1"/>
<path d="M864.1 198.4L866.4 199.4L866.4 222.2L864.1 221.2Z" fill="#222"/>
<ellipse cx="870.6" cy="214" rx="1.6" ry="2.2" fill="#3f3648" stroke="#111" stroke-width="0.5"/>
<rect x="868.7" y="201.2" width="3.4" height="7.4" fill="#51465c" stroke="#1a1a1a" stroke-width="0.5"/>
<path d="M632.6 239.4L745.6 175.4L751.6 186L751.6 190.6L644 251.6Z" fill="#2a2916"/>
<path d="M636.6 243L747.4 180.6L748.6 183.4L639.6 245.6Z" fill="#d8d8d0"/>
<path d="M634.4 239L745.2 176.4L747.8 179.6L637.4 242.4Z" fill="#7f7b2b"/>
<path d="M634.4 239L745.2 176.4L746 177.4L635.2 240Z" fill="#a29d44"/>
<rect x="646.5" y="233.7" width="2.2" height="1.6" fill="#ededed"/>
<rect x="668.7" y="221.2" width="2.2" height="1.6" fill="#ededed"/>
<rect x="690.9" y="208.7" width="2.2" height="1.6" fill="#ededed"/>
<rect x="713.1" y="196.2" width="2.2" height="1.6" fill="#ededed"/>
<rect x="735.3" y="183.7" width="2.2" height="1.6" fill="#ededed"/>
<path d="M641.8 246.6L747.8 186.8L750 189L644.4 249Z" fill="#6c6924"/>
<path d="M641.8 246.6L747.8 186.8L748.4 187.6L642.4 247.4Z" fill="#8d8936"/>
<rect x="663.4" y="235" width="2" height="1.5" fill="#e6e6e6"/>
<rect x="690.1" y="220" width="2" height="1.5" fill="#e6e6e6"/>
<rect x="716.9" y="205" width="2" height="1.5" fill="#e6e6e6"/>
<path d="M643.4 275.4L670.6 262.4L670.6 318.4L643.4 331Z" fill="#141414"/>
<path d="M647 278L668 268L668 314L647 324.4Z" fill="#2a7a3e"/>
<path d="M647 278L668 268L668 290L647 300Z" fill="#1e5e30"/>
<path d="M651 290.6L666 283.6L672 287L672 294L657 301.4L651 297.6Z" fill="#bdb6c6" stroke="#1a1a1a" stroke-width="0.8"/>
<path d="M653 291L666 285L670.6 287.6L657.6 294Z" fill="#6e6878"/>
<path d="M657.6 294L657.6 301" stroke="#1a1a1a" stroke-width="0.7" fill="none"/>
<path d="M523.6 207L643.4 274.6L643.4 330L523.6 261.6Z" fill="#131313"/>
<path d="M528.6 218.4L554.7 233.1L554.7 270.1L528.6 255.4Z" fill="#2e8040" stroke="#0c2a14" stroke-width="0.6"/>
<path d="M556.3 234.3L582.4 248.6L582.4 285.6L556.3 271.3Z" fill="#2e8040" stroke="#0c2a14" stroke-width="0.6"/>
<path d="M588.1 251.7L613.8 266L613.8 303L588.1 288.7Z" fill="#2e8040" stroke="#0c2a14" stroke-width="0.6"/>
<path d="M614.9 267.2L640.3 280.8L640.3 317.8L614.9 304.2Z" fill="#2e8040" stroke="#0c2a14" stroke-width="0.6"/>
<rect x="551.6" y="249.6" width="1.4" height="5" fill="#1a1a1a"/>
<rect x="557.4" y="253" width="1.4" height="5" fill="#1a1a1a"/>
<rect x="610.6" y="283" width="1.4" height="5" fill="#1a1a1a"/>
<rect x="616" y="286.4" width="1.4" height="5" fill="#1a1a1a"/>
<path d="M523.6 207L643.4 274.6L670.6 261.6L551 194Z" fill="#dcdcdc" stroke="#161616" stroke-width="0.9"/>
<path d="M547 196.4L551 194.4L668 260.4L664 262.4Z" fill="#f8f8f8"/>
<path d="M545.5 198.9L652 259.3L652 274.2L545.5 213.8Z" fill="#241e1a"/>
<path d="M550.5 202.8L644 255.8" stroke="#b07a40" stroke-width="1.1" fill="none"/>
<path d="M550.5 205.1L644 258.1" stroke="#6a4a28" stroke-width="0.8" fill="none"/>
<path d="M550.5 211.6L644 264.6" stroke="#8a5e30" stroke-width="0.9" fill="none"/>
<path d="M550.5 213.4L644 266.4" stroke="#b98245" stroke-width="1.1" fill="none"/>
<path d="M550.5 215.6L644 268.6" stroke="#9a6a34" stroke-width="0.9" fill="none"/>
<path d="M549 208.9L552.2 207.2L555.2 208.9L552 210.7Z" fill="#ffffff" stroke="#222" stroke-width="0.3"/>
<path d="M554.8 212.1L558 210.4L561 212.1L557.8 213.9Z" fill="#ffffff" stroke="#222" stroke-width="0.3"/>
<path d="M560.5 215.4L563.7 213.7L566.7 215.4L563.5 217.2Z" fill="#ffffff" stroke="#222" stroke-width="0.3"/>
<path d="M566.2 218.7L569.5 217L572.5 218.7L569.2 220.5Z" fill="#ffffff" stroke="#222" stroke-width="0.3"/>
<path d="M572 221.9L575.2 220.2L578.2 221.9L575 223.7Z" fill="#ffffff" stroke="#222" stroke-width="0.3"/>
<path d="M577.8 225.2L581 223.5L584 225.2L580.8 227Z" fill="#ffffff" stroke="#222" stroke-width="0.3"/>
<path d="M583.5 228.4L586.7 226.7L589.7 228.4L586.5 230.2Z" fill="#ffffff" stroke="#222" stroke-width="0.3"/>
<path d="M589.2 231.7L592.5 230L595.5 231.7L592.2 233.5Z" fill="#ffffff" stroke="#222" stroke-width="0.3"/>
<path d="M595 235L598.2 233.3L601.2 235L598 236.8Z" fill="#ffffff" stroke="#222" stroke-width="0.3"/>
<path d="M600.8 238.2L604 236.5L607 238.2L603.8 240Z" fill="#ffffff" stroke="#222" stroke-width="0.3"/>
<path d="M606.5 241.5L609.7 239.8L612.7 241.5L609.5 243.3Z" fill="#ffffff" stroke="#222" stroke-width="0.3"/>
<path d="M612.2 244.7L615.5 243L618.5 244.7L615.2 246.5Z" fill="#ffffff" stroke="#222" stroke-width="0.3"/>
<path d="M618 248L621.2 246.3L624.2 248L621 249.8Z" fill="#ffffff" stroke="#222" stroke-width="0.3"/>
<path d="M623.8 251.3L627 249.6L630 251.3L626.8 253.1Z" fill="#ffffff" stroke="#222" stroke-width="0.3"/>
<path d="M629.5 254.5L632.7 252.8L635.7 254.5L632.5 256.3Z" fill="#ffffff" stroke="#222" stroke-width="0.3"/>
<path d="M635.2 257.8L638.5 256.1L641.5 257.8L638.2 259.6Z" fill="#ffffff" stroke="#222" stroke-width="0.3"/>
<path d="M641 261L644.2 259.3L647.2 261L644 262.8Z" fill="#ffffff" stroke="#222" stroke-width="0.3"/>
<path d="M646.8 264.3L650 262.6L653 264.3L649.8 266.1Z" fill="#ffffff" stroke="#222" stroke-width="0.3"/>
<path d="M538 203L548 197.6L556 202L556 208L546 213.4L538 209Z" fill="#1a1a1a"/>
<path d="M541.6 204.4L546.6 201.6L549.6 203.4L544.6 206.2Z" fill="#d8d8d8"/>
<rect x="531" y="213.4" width="1.6" height="1.2" fill="#3a3a3a"/>
<rect x="540.5" y="218.7" width="1.6" height="1.2" fill="#3a3a3a"/>
<rect x="549.9" y="224.1" width="1.6" height="1.2" fill="#3a3a3a"/>
<rect x="559.4" y="229.4" width="1.6" height="1.2" fill="#3a3a3a"/>
<rect x="568.8" y="234.7" width="1.6" height="1.2" fill="#3a3a3a"/>
<rect x="578.3" y="240" width="1.6" height="1.2" fill="#3a3a3a"/>
<rect x="587.7" y="245.4" width="1.6" height="1.2" fill="#3a3a3a"/>
<rect x="597.2" y="250.7" width="1.6" height="1.2" fill="#3a3a3a"/>
<rect x="606.6" y="256" width="1.6" height="1.2" fill="#3a3a3a"/>
<rect x="616.1" y="261.3" width="1.6" height="1.2" fill="#3a3a3a"/>
<rect x="625.5" y="266.7" width="1.6" height="1.2" fill="#3a3a3a"/>
<rect x="635" y="272" width="1.6" height="1.2" fill="#3a3a3a"/>
<path d="M523.6 207L643.4 274.6L643.4 278.2L523.6 210.6Z" fill="#131313"/>
<path d="M527.6 199.4L545.6 189.6L554.6 194.4L536.6 204.4Z" fill="#e2e2e2" stroke="#161616" stroke-width="0.8"/>
<path d="M527.6 199.4L536.6 204.4L536.6 211.6L527.6 206.6Z" fill="#b9b9b9" stroke="#161616" stroke-width="0.8"/>
<path d="M536.6 204.4L554.6 194.4L554.6 199L536.6 209Z" fill="#9a9a9a" stroke="#161616" stroke-width="0.6"/>
<ellipse cx="556.6" cy="193.6" rx="3" ry="2.6" fill="#3a3a3a" stroke="#111" stroke-width="0.6"/>
<ellipse cx="560.6" cy="191.6" rx="3.6" ry="3" fill="#2a2a2a" stroke="#111" stroke-width="0.6"/>
<path d="M560 196L572 189.6L577 192.4L565 198.8Z" fill="#1c1c1c"/>
<path d="M628 251L640 245L652 251.6L640 258Z" fill="#efefef" stroke="#222" stroke-width="0.6"/>
<path d="M652 262L664 256L670 259L670 268L658 274Z" fill="#2a2a2a"/>
<path d="M655 263.6L664 259L668 261L659 265.8Z" fill="#e6e6e6"/>
<path d="M527 264L527 267" stroke="#111" stroke-width="2" fill="none"/>
<ellipse cx="527" cy="268.4" rx="3" ry="1.5" fill="#111"/>
<path d="M642.6 331L642.6 334" stroke="#111" stroke-width="2" fill="none"/>
<ellipse cx="642.6" cy="335.4" rx="3" ry="1.5" fill="#111"/>
<path d="M668.6 318L668.6 321" stroke="#111" stroke-width="2" fill="none"/>
<ellipse cx="668.6" cy="322.4" rx="3" ry="1.5" fill="#111"/>
<ellipse cx="538" cy="271" rx="2.6" ry="1.2" fill="#111"/>
<path d="M676.7 253.8L732 285.2L730 331.2L675.1 297.8Z" fill="#151515"/>
<path d="M679.4 259.6L729.6 288L728.4 326.6L678.4 297Z" fill="#9c9c9f"/>
<path d="M694 268L729.6 288L729.4 298L694 278Z" fill="#8a8a8e"/>
<path d="M694 278L729.4 298L729 312L694 292Z" fill="#b4b4b8"/>
<path d="M680 260.6L690 266.2L689.4 298L679.2 292Z" fill="#58585c" stroke="#1a1a1a" stroke-width="0.7"/>
<path d="M680 271L690 276.6" stroke="#1a1a1a" stroke-width="1" fill="none"/>
<path d="M679.6 281.4L689.6 287" stroke="#1a1a1a" stroke-width="1" fill="none"/>
<path d="M699 301.6L707 297.6L715 302.2L707 306.2Z" fill="#f4f4f4"/>
<path d="M715 301L722 297.4L728.6 301L728.4 309.6L721 313Z" fill="#d468cc"/>
<path d="M716 313L728.4 307L728.2 314L719 318.4Z" fill="#f2f2f2"/>
<path d="M677.6 254L676.2 298" stroke="#111" stroke-width="2.8" fill="none"/>
<path d="M693 263.6L692 307" stroke="#111" stroke-width="3" fill="none"/>
<path d="M730.8 286L729.2 331.6" stroke="#111" stroke-width="3.2" fill="none"/>
<path d="M675.4 297L729.4 328.6" stroke="#111" stroke-width="3" fill="none"/>
<rect x="691.4" y="283" width="3" height="5" fill="#2a2a2a"/>
<path d="M711 274.6L710.4 317" stroke="#3a3a3a" stroke-width="1.2" fill="none"/>
<path d="M732 285.2L760 269.8L759 310.8L730 331.2Z" fill="#181818"/>
<path d="M734 289.6L746.4 283L745.6 325L733 332Z" fill="#6a4a76" stroke="#2a1a30" stroke-width="0.6"/>
<path d="M750.6 281L759 276.6L758.6 305L750.2 309.6Z" fill="#6a4a76" stroke="#2a1a30" stroke-width="0.6"/>
<rect x="737.6" y="304.6" width="1.8" height="5" fill="#d8c8e0" stroke="#222" stroke-width="0.5"/>
<path d="M676.7 253.8L732 285.2L760 269.8L704.7 238.4Z" fill="#a2a2a2" stroke="#161616" stroke-width="1"/>
<path d="M676.7 253.8L732 285.2L732 288.2L676.7 256.8Z" fill="#151515"/>
<path d="M732 285.2L760 269.8L760 272.8L732 288.2Z" fill="#151515"/>
<path d="M676.6 299L676.6 302" stroke="#111" stroke-width="2" fill="none"/>
<ellipse cx="676.6" cy="303" rx="2.8" ry="1.4" fill="#111"/>
<path d="M729.4 332L729.4 335" stroke="#111" stroke-width="2" fill="none"/>
<ellipse cx="729.4" cy="336" rx="2.8" ry="1.4" fill="#111"/>
<path d="M758.6 312L758.6 315" stroke="#111" stroke-width="2" fill="none"/>
<ellipse cx="758.6" cy="316" rx="2.8" ry="1.4" fill="#111"/>
<path d="M662.4 250L682.4 239.2L685.6 241.6L665.6 252.6Z" fill="#62d98a" stroke="#14502a" stroke-width="0.6"/>
<path d="M650 256.6L662.4 250L665.6 252.6L653 259.4Z" fill="#f0f0f0" stroke="#222" stroke-width="0.6"/>
<path d="M665.6 252.6L685.6 241.6L685.6 244L665.6 255Z" fill="#2a6a3e"/>
<path d="M657 242.4L690 224.6L704 232L671 250Z" fill="#9c9c9c" stroke="#1a1a1a" stroke-width="0.8"/>
<path d="M657 242.4L671 250L671 262L657 254.4Z" fill="#161616"/>
<path d="M671 250L680 245.2L680 252L671 257Z" fill="#222"/>
<path d="M668.4 232.6L686 223.2L693 227L675.4 236.6Z" fill="#dcb4e4" stroke="#3a2a40" stroke-width="0.7"/>
<path d="M668.4 232.6L675.4 236.6L675.4 241L668.4 237Z" fill="#a888b0" stroke="#3a2a40" stroke-width="0.6"/>
<path d="M675.4 236.6L693 227L693 231.4L675.4 241Z" fill="#b898c4" stroke="#3a2a40" stroke-width="0.6"/>
<path d="M690 226L697 222.4L702 225L702 231L695 234.6Z" fill="#8a8a8a" stroke="#222" stroke-width="0.6"/>
<rect x="688" y="239" width="2.2" height="8" fill="#1c1c1c"/>
<rect x="693.6" y="242" width="2.2" height="8" fill="#1c1c1c"/>
<rect x="682" y="236" width="2.2" height="8" fill="#1c1c1c"/>
<path d="M714 239L743 225L744.6 251L729 264.6L716 262Z" fill="#15151b"/>
<path d="M700.6 232L712 238.6L712 246L700.6 239.6Z" fill="#2a2a30"/>
<ellipse cx="730.6" cy="249" rx="8.6" ry="9.6" fill="#0a0a0a"/>
<ellipse cx="729" cy="247.6" rx="3.6" ry="4.2" fill="#4a4a4a"/>
<path d="M718 258L724 255L727 262L721 265Z" fill="#6a6e3a"/>
<path d="M699.6 230L699.6 257.6" stroke="#101018" stroke-width="3.2" fill="none"/>
<path d="M699.3 230L699.3 257.6" stroke="#34344c" stroke-width="0.8160000000000001" fill="none"/>
<path d="M705.6 233.6L705.6 261.6" stroke="#101018" stroke-width="3.2" fill="none"/>
<path d="M705.3 233.6L705.3 261.6" stroke="#34344c" stroke-width="0.8160000000000001" fill="none"/>
<path d="M716.6 238.6L716.6 267.6" stroke="#101018" stroke-width="3.5999999999999996" fill="none"/>
<path d="M716.3 238.6L716.3 267.6" stroke="#34344c" stroke-width="0.952" fill="none"/>
<path d="M741.8 225L741.8 251" stroke="#101018" stroke-width="3.4000000000000004" fill="none"/>
<path d="M741.5 225L741.5 251" stroke="#34344c" stroke-width="0.8840000000000001" fill="none"/>
<path d="M710.6 236.6L710.6 264" stroke="#101018" stroke-width="3.0" fill="none"/>
<path d="M710.3 236.6L710.3 264" stroke="#34344c" stroke-width="0.7480000000000001" fill="none"/>
<ellipse cx="699.6" cy="258" rx="2" ry="1.1" fill="#0c0c0c"/>
<ellipse cx="705.6" cy="262" rx="2" ry="1.1" fill="#0c0c0c"/>
<ellipse cx="716.6" cy="268" rx="2" ry="1.1" fill="#0c0c0c"/>
<ellipse cx="741.8" cy="251.6" rx="2" ry="1.1" fill="#0c0c0c"/>
<path d="M699.8 228.6L730.8 214.6L744.6 221.6L713 237Z" fill="#dedede" stroke="#111" stroke-width="0.9"/>
<path d="M699.8 228.6L713 237L713 239.8L699.8 231.4Z" fill="#f6f6f6" stroke="#111" stroke-width="0.5"/>
<path d="M713 237L744.6 221.6L744.6 224.4L713 239.8Z" fill="#fafafa" stroke="#111" stroke-width="0.5"/>
<path d="M702 228.4L730 215.8L741 221.4L713 234.6Z" fill="#2a2a2e"/>
<rect x="704" y="219" width="3.2" height="12" fill="#202024" stroke="#111" stroke-width="0.6"/>
<ellipse cx="705.6" cy="219" rx="2.1" ry="1" fill="#888"/>
<rect x="704.8" y="215" width="1.6" height="4" fill="#bdbdbd" stroke="#111" stroke-width="0.6"/>
<ellipse cx="705.6" cy="215" rx="1.3" ry="1" fill="#2a2a2a"/>
<rect x="735.4" y="210.4" width="3.2" height="12" fill="#202024" stroke="#111" stroke-width="0.6"/>
<ellipse cx="737" cy="210.4" rx="2.1" ry="1" fill="#888"/>
<rect x="736.2" y="205.8" width="1.6" height="4.6" fill="#bdbdbd" stroke="#111" stroke-width="0.6"/>
<ellipse cx="737" cy="205.8" rx="1.3" ry="1" fill="#2a2a2a"/>
<rect x="728.6" y="210" width="2.8" height="10" fill="#2e2e34" stroke="#111" stroke-width="0.6"/>
<ellipse cx="730" cy="210" rx="1.9" ry="1" fill="#999"/>
<rect x="710.9" y="219" width="3.4" height="14" fill="#d8d8d8" stroke="#111" stroke-width="0.6"/>
<ellipse cx="712.6" cy="219" rx="2.2" ry="1" fill="#fafafa"/>
<rect x="711.6" y="216" width="2" height="3" fill="#333" stroke="#111" stroke-width="0.6"/>
<ellipse cx="712.6" cy="216" rx="1.5" ry="1" fill="#2a2a2a"/>
<rect x="719.6" y="202" width="7.6" height="30" fill="#bcbcbc" stroke="#111" stroke-width="0.8"/>
<rect x="721.2" y="202" width="2" height="30" fill="#ececec"/>
<rect x="724.8" y="206" width="1.8" height="25" fill="#6a6a6a"/>
<rect x="718.4" y="212" width="10" height="3" fill="#1c1c1c"/>
<rect x="718.4" y="223" width="10" height="2.6" fill="#1c1c1c"/>
<ellipse cx="727.4" cy="204.6" rx="2.6" ry="2.2" fill="#f4f4f4" stroke="#222" stroke-width="0.6"/>
<path d="M726.4 193.6L726.4 202" stroke="#111" stroke-width="1.8" fill="none"/>
<circle cx="727.4" cy="192.6" r="1.8" fill="#111"/>
<rect x="732.6" y="216" width="3.6" height="7" fill="#1c1c1c"/>
<path d="M736 262L752 253.6L770 264L770 275L754 284L736 273Z" fill="#131313"/>
<path d="M738.6 271.6L747 267.6L763.6 277.4L755 281.6Z" fill="#e9e9e9" stroke="#111" stroke-width="0.6"/>
<path d="M742 262L750 258L758 262.6L750 266.6Z" fill="#3a3a3a"/>
<ellipse cx="768.6" cy="273.6" rx="2.4" ry="2.4" fill="#a0a4e0" stroke="#222" stroke-width="0.6"/>
<path d="M757 281.4L767 276.6L771 279L761 283.8Z" fill="#f0f0f0" stroke="#222" stroke-width="0.5"/>
<path d="M764.6 259L764.6 274" stroke="#222" stroke-width="1.8" fill="none"/>
<path d="M743.3 242.6L755.8 235.8L785.3 255.1L772.9 261.9Z" fill="#e58f86" stroke="#3a1a1a" stroke-width="0.9"/>
<path d="M743.3 242.6L772.9 261.9L772.9 264.2L743.3 245Z" fill="#7a3a3a"/>
<path d="M757 246.6L764 242.8L772.6 248.4L765.6 252.4Z" fill="#141450"/>
<path d="M758.6 246.6L764 243.8L770.8 248.4L765.6 251.4Z" fill="#2038d8"/>
<path d="M749.4 241.6L752.6 243.2" stroke="#3a1414" stroke-width="1.4" fill="none"/>
<path d="M775 257.4L778.2 259" stroke="#3a1414" stroke-width="1.4" fill="none"/>
<path d="M765.6 299L765.6 343" stroke="#0f0f0f" stroke-width="4.800000000000001" fill="none"/>
<path d="M748.8 292L748.8 334" stroke="#0f0f0f" stroke-width="4.0" fill="none"/>
<path d="M813.8 268L813.8 316" stroke="#0f0f0f" stroke-width="4.4" fill="none"/>
<path d="M798 270L798 307" stroke="#0f0f0f" stroke-width="4.0" fill="none"/>
<path d="M765.6 328L797 307.4" stroke="#0f0f0f" stroke-width="4.4" fill="none"/>
<path d="M748.8 322L765.6 331" stroke="#0f0f0f" stroke-width="3.6000000000000005" fill="none"/>
<path d="M798 295L813.8 303.6" stroke="#0f0f0f" stroke-width="4.0" fill="none"/>
<path d="M765.6 343L765.6 345.6" stroke="#0f0f0f" stroke-width="1.8" fill="none"/>
<ellipse cx="765.6" cy="346.4" rx="2.8" ry="1.4" fill="#0f0f0f"/>
<path d="M813.8 316L813.8 318.6" stroke="#0f0f0f" stroke-width="1.8" fill="none"/>
<ellipse cx="813.8" cy="319.4" rx="2.8" ry="1.4" fill="#0f0f0f"/>
<path d="M748.8 334L748.8 336.6" stroke="#0f0f0f" stroke-width="1.8" fill="none"/>
<ellipse cx="748.8" cy="337.4" rx="2.8" ry="1.4" fill="#0f0f0f"/>
<path d="M747 290L765 299L791 283.6L791 299L765 315L747 306Z" fill="#151515"/>
<path d="M751.6 297L763 303L763 319L751.6 313Z" fill="#5d3e68" stroke="#1a1020" stroke-width="0.5"/>
<path d="M773.8 296L787.4 288L787.4 301.6L773.8 309.6Z" fill="#a47272" stroke="#1a1010" stroke-width="0.6"/>
<path d="M776 299.6L787.4 293L787.4 301.6L776 308.2Z" fill="#8a5c5c"/>
<path d="M746.6 288.6L801 256.4L816 264.4L816 269L762 300.6L746.6 293Z" fill="#101010"/>
<path d="M748.6 287.8L801 257.8L813.6 264.4L761.2 295Z" fill="#208a30"/>
<path d="M748.6 287.8L801 257.8L802.6 258.8L750.4 288.8Z" fill="#3aa548"/>
<path d="M816 266L824.4 261.8L824.4 284.6L816 288.8Z" fill="#645670" stroke="#101010" stroke-width="1.1"/>
<path d="M813.6 264.8L816 266L816 288.8L813.6 287.6Z" fill="#222"/>
<ellipse cx="820.4" cy="281" rx="1.6" ry="2.2" fill="#3f3648" stroke="#111" stroke-width="0.5"/>
<rect x="818.4" y="268" width="3.4" height="7.4" fill="#51465c" stroke="#1a1a1a" stroke-width="0.5"/>
<path d="M72.3 113L72.3 243" stroke="#1c1c1c" stroke-width="1" fill="none"/>
<path d="M72.3 113L71 117.4L73.6 117.4Z" fill="#1c1c1c"/>
<path d="M72.3 243L71 238.6L73.6 238.6Z" fill="#1c1c1c"/>
<path d="M70 113L188 113" stroke="#1c1c1c" stroke-width="0.9" fill="none"/>
<path d="M70 243L483.5 243" stroke="#1c1c1c" stroke-width="1.1" fill="none"/>
<text x="70" y="188.5" font-family="Liberation Serif, serif" font-size="9.6" fill="#2a2a2a" text-anchor="middle" transform="rotate(-90 70 188.5)" textLength="32.9" lengthAdjust="spacingAndGlyphs">1676.50</text>
<path d="M99 137.6L99 243" stroke="#1c1c1c" stroke-width="1" fill="none"/>
<path d="M99 137.6L97.7 142L100.3 142Z" fill="#1c1c1c"/>
<path d="M99 243L97.7 238.6L100.3 238.6Z" fill="#1c1c1c"/>
<path d="M97 137.6L260 137.6" stroke="#1c1c1c" stroke-width="0.9" fill="none"/>
<text x="97.5" y="180.5" font-family="Liberation Serif, serif" font-size="9.6" fill="#2a2a2a" text-anchor="middle" transform="rotate(-90 97.5 180.5)" textLength="32.9" lengthAdjust="spacingAndGlyphs">1362.50</text>
<path d="M481 80.3L481 243" stroke="#1c1c1c" stroke-width="1" fill="none"/>
<path d="M481 80.3L479.6 84.7L482.4 84.7Z" fill="#1c1c1c"/>
<path d="M481 243L479.6 238.6L482.4 238.6Z" fill="#1c1c1c"/>
<path d="M366 80.3L483.5 80.3" stroke="#1c1c1c" stroke-width="0.9" fill="none"/>
<text x="479" y="207.6" font-family="Liberation Sans, serif" font-size="13.8" fill="#444" text-anchor="middle" transform="rotate(-90 479 207.6)">1976</text>
<path d="M126.8 280.9L457.5 280.9" stroke="#1c1c1c" stroke-width="1" fill="none"/>
<path d="M126.8 280.9L131.2 279.5L131.2 282.2Z" fill="#1c1c1c"/>
<path d="M457.5 280.9L453.1 279.5L453.1 282.2Z" fill="#1c1c1c"/>
<path d="M126.8 278L126.8 316" stroke="#1c1c1c" stroke-width="0.9" fill="none"/>
<path d="M457.5 278L457.5 314" stroke="#1c1c1c" stroke-width="0.9" fill="none"/>
<text x="310.6" y="277.6" font-family="Liberation Serif, serif" font-size="13.4" fill="#2a2a2a" text-anchor="middle" textLength="26.4" lengthAdjust="spacingAndGlyphs">4254</text>
<path d="M126.8 307.2L167.6 307.2" stroke="#1c1c1c" stroke-width="1" fill="none"/>
<path d="M126.8 307.2L131.2 305.8L131.2 308.6Z" fill="#1c1c1c"/>
<path d="M167.6 307.2L163.2 305.8L163.2 308.6Z" fill="#1c1c1c"/>
<path d="M167.6 305L167.6 322" stroke="#1c1c1c" stroke-width="0.9" fill="none"/>
<text x="146.4" y="304.8" font-family="Liberation Serif, serif" font-size="9.6" fill="#2a2a2a" text-anchor="middle" textLength="14.1" lengthAdjust="spacingAndGlyphs">524</text>
<path d="M171.2 310L302.5 310" stroke="#1c1c1c" stroke-width="1" fill="none"/>
<path d="M171.2 310L175.6 308.6L175.6 311.4Z" fill="#1c1c1c"/>
<path d="M302.5 310L298.1 308.6L298.1 311.4Z" fill="#1c1c1c"/>
<path d="M171.2 307.5L171.2 322" stroke="#1c1c1c" stroke-width="0.9" fill="none"/>
<path d="M302.5 307.5L302.5 322" stroke="#1c1c1c" stroke-width="0.9" fill="none"/>
<text x="258.3" y="308.6" font-family="Liberation Serif, serif" font-size="9.6" fill="#2a2a2a" text-anchor="middle" textLength="18.8" lengthAdjust="spacingAndGlyphs">1690</text>
<path d="M310.9 289L310.9 323" stroke="#1c1c1c" stroke-width="0.9" fill="none"/>
<path d="M310.9 323.3L310.9 368.8" stroke="#1c1c1c" stroke-width="1" fill="none"/>
<path d="M310.9 323.3L309.5 327.7L312.2 327.7Z" fill="#1c1c1c"/>
<path d="M310.9 368.8L309.5 364.4L312.2 364.4Z" fill="#1c1c1c"/>
<path d="M301 323.3L313 323.3" stroke="#1c1c1c" stroke-width="0.9" fill="none"/>
<path d="M300 368.8L313 368.8" stroke="#1c1c1c" stroke-width="0.9" fill="none"/>
<text x="309" y="296" font-family="Liberation Serif, serif" font-size="9.6" fill="#2a2a2a" text-anchor="middle" transform="rotate(-90 309 296)" textLength="14.1" lengthAdjust="spacingAndGlyphs">600</text>
<path d="M317.7 296.8L457.5 296.8" stroke="#1c1c1c" stroke-width="1" fill="none"/>
<path d="M317.7 296.8L322.1 295.4L322.1 298.2Z" fill="#1c1c1c"/>
<path d="M457.5 296.8L453.1 295.4L453.1 298.2Z" fill="#1c1c1c"/>
<path d="M317.7 294.5L317.7 311" stroke="#1c1c1c" stroke-width="0.9" fill="none"/>
<text x="396.7" y="295.2" font-family="Liberation Serif, serif" font-size="9.6" fill="#2a2a2a" text-anchor="middle" textLength="18.8" lengthAdjust="spacingAndGlyphs">1800</text>
<path d="M483.1 314.6L483.1 361.4" stroke="#1c1c1c" stroke-width="1" fill="none"/>
<path d="M483.1 314.6L481.8 319L484.5 319Z" fill="#1c1c1c"/>
<path d="M483.1 361.4L481.8 357L484.5 357Z" fill="#1c1c1c"/>
<path d="M441 361.4L485.5 361.4" stroke="#1c1c1c" stroke-width="0.9" fill="none"/>
<text x="480.5" y="338" font-family="Liberation Serif, serif" font-size="9.6" fill="#2a2a2a" text-anchor="middle" transform="rotate(-90 480.5 338)" textLength="14.1" lengthAdjust="spacingAndGlyphs">600</text>
<path d="M99.5 316.8L99.5 499.4" stroke="#1c1c1c" stroke-width="1" fill="none"/>
<path d="M99.5 316.8L98.2 321.2L100.8 321.2Z" fill="#1c1c1c"/>
<path d="M99.5 499.4L98.2 495L100.8 495Z" fill="#1c1c1c"/>
<path d="M97 316.8L128 316.8" stroke="#1c1c1c" stroke-width="0.9" fill="none"/>
<path d="M97 499.4L135 499.4" stroke="#1c1c1c" stroke-width="0.9" fill="none"/>
<text x="98" y="423" font-family="Liberation Serif, serif" font-size="9.6" fill="#2a2a2a" text-anchor="middle" transform="rotate(-90 98 423)" textLength="18.8" lengthAdjust="spacingAndGlyphs">2369</text>
<path d="M296.7 396.5L351.7 396.5" stroke="#1c1c1c" stroke-width="1" fill="none"/>
<path d="M296.7 396.5L301.1 395.1L301.1 397.9Z" fill="#1c1c1c"/>
<path d="M351.7 396.5L347.3 395.1L347.3 397.9Z" fill="#1c1c1c"/>
<path d="M296.7 393.5L296.7 409" stroke="#1c1c1c" stroke-width="0.9" fill="none"/>
<path d="M351.7 393.5L351.7 409" stroke="#1c1c1c" stroke-width="0.9" fill="none"/>
<text x="323" y="395.4" font-family="Liberation Serif, serif" font-size="9.6" fill="#2a2a2a" text-anchor="middle" textLength="14.1" lengthAdjust="spacingAndGlyphs">700</text>
<path d="M279.3 409.5L279.3 549.8" stroke="#1c1c1c" stroke-width="1" fill="none"/>
<path d="M279.3 409.5L277.9 413.9L280.7 413.9Z" fill="#1c1c1c"/>
<path d="M279.3 549.8L277.9 545.4L280.7 545.4Z" fill="#1c1c1c"/>
<path d="M277 409.5L298 409.5" stroke="#1c1c1c" stroke-width="0.9" fill="none"/>
<path d="M277 550L379 550" stroke="#1c1c1c" stroke-width="0.9" fill="none"/>
<text x="277.6" y="471.4" font-family="Liberation Serif, serif" font-size="9.6" fill="#2a2a2a" text-anchor="middle" transform="rotate(-90 277.6 471.4)" textLength="18.8" lengthAdjust="spacingAndGlyphs">1817</text>
<path d="M296.8 519L296.8 565" stroke="#1c1c1c" stroke-width="0.9" fill="none"/>
<path d="M305.9 547L305.9 565" stroke="#1c1c1c" stroke-width="0.9" fill="none"/>
<path d="M296 563.8L336.4 563.8" stroke="#1c1c1c" stroke-width="0.9" fill="none"/>
<path d="M296.8 563.8L300.4 562.7L300.4 564.9Z" fill="#1c1c1c"/>
<path d="M305.9 563.8L302.3 562.7L302.3 564.9Z" fill="#1c1c1c"/>
<text x="307.6" y="561.6" font-family="Liberation Serif, serif" font-size="9.6" fill="#2a2a2a" text-anchor="start" textLength="28" lengthAdjust="spacingAndGlyphs">117.50</text>
<path d="M184 612.5L278.5 612.5" stroke="#1c1c1c" stroke-width="1" fill="none"/>
<path d="M184 612.5L188.4 611.1L188.4 613.9Z" fill="#1c1c1c"/>
<path d="M278.5 612.5L274.1 611.1L274.1 613.9Z" fill="#1c1c1c"/>
<path d="M184 557L184 615" stroke="#1c1c1c" stroke-width="0.9" fill="none"/>
<path d="M278.5 546L278.5 615" stroke="#1c1c1c" stroke-width="0.9" fill="none"/>
<text x="231" y="609" font-family="Liberation Serif, serif" font-size="13.4" fill="#2a2a2a" text-anchor="middle" textLength="26.4" lengthAdjust="spacingAndGlyphs">1245</text>
<path d="M592.7 314.6L592.7 589.5" stroke="#1c1c1c" stroke-width="1" fill="none"/>
<path d="M592.7 314.6L591.4 319L594.1 319Z" fill="#1c1c1c"/>
<path d="M592.7 589.5L591.4 585.1L594.1 585.1Z" fill="#1c1c1c"/>
<path d="M459 314.6L595 314.6" stroke="#1c1c1c" stroke-width="0.9" fill="none"/>
<path d="M278.5 590L596 590" stroke="#1c1c1c" stroke-width="0.9" fill="none"/>
<text x="591.4" y="446.6" font-family="Liberation Sans, serif" font-size="13.8" fill="#444" text-anchor="middle" transform="rotate(-90 591.4 446.6)">3547</text>
<path d="M299 335L413.4 449.4" stroke="#1c1c1c" stroke-width="1" fill="none"/>
<path d="M413 449.4L559 449.4" stroke="#111" stroke-width="2" fill="none"/>
<path d="M391 541.6L414.5 561.5L573.4 561.5" stroke="#1c1c1c" stroke-width="1" fill="none"/>
<path d="M16.5 581.5L175 581.5L184.5 553" stroke="#1c1c1c" stroke-width="1.5" fill="none"/>
<text x="414.2" y="408.1" font-family="Liberation Serif, Noto Serif CJK SC, serif" font-size="12.7" fill="#262626" text-anchor="start" textLength="101.6" lengthAdjust="spacingAndGlyphs">名称：本体打片机</text>
<text x="414.2" y="421.4" font-family="Liberation Serif, Noto Serif CJK SC, serif" font-size="12.7" fill="#262626" text-anchor="start" textLength="38.1" lengthAdjust="spacingAndGlyphs">型号：</text>
<text x="450.7" y="421.1" font-family="Liberation Serif, serif" font-size="14.2" fill="#262626" text-anchor="start" textLength="38.1" lengthAdjust="spacingAndGlyphs">XZ-120</text>
<text x="414.2" y="434.7" font-family="Liberation Serif, Noto Serif CJK SC, serif" font-size="12.7" fill="#262626" text-anchor="start" textLength="38.1" lengthAdjust="spacingAndGlyphs">尺寸：</text>
<text x="450.7" y="434.4" font-family="Liberation Serif, serif" font-size="14.2" fill="#262626" text-anchor="start" textLength="101.6" lengthAdjust="spacingAndGlyphs">4254X2292X1976MM</text>
<text x="414.2" y="448" font-family="Liberation Serif, Noto Serif CJK SC, serif" font-size="12.7" fill="#262626" text-anchor="start" textLength="38.1" lengthAdjust="spacingAndGlyphs">功率：</text>
<text x="450.7" y="447.7" font-family="Liberation Serif, serif" font-size="14.2" fill="#262626" text-anchor="start" textLength="38.1" lengthAdjust="spacingAndGlyphs">5.87KW</text>
<text x="416" y="520.1" font-family="Liberation Serif, Noto Serif CJK SC, serif" font-size="12.9" fill="#262626" text-anchor="start" textLength="154.8" lengthAdjust="spacingAndGlyphs">名称：一拖二全自动口罩机</text>
<text x="416" y="533.7" font-family="Liberation Serif, Noto Serif CJK SC, serif" font-size="12.9" fill="#262626" text-anchor="start" textLength="38.7" lengthAdjust="spacingAndGlyphs">型号：</text>
<text x="453.2" y="533.4" font-family="Liberation Serif, serif" font-size="14.5" fill="#262626" text-anchor="start" textLength="38.8" lengthAdjust="spacingAndGlyphs">XZ-120</text>
<text x="416" y="547.3" font-family="Liberation Serif, Noto Serif CJK SC, serif" font-size="12.9" fill="#262626" text-anchor="start" textLength="38.7" lengthAdjust="spacingAndGlyphs">尺寸：</text>
<text x="453.2" y="547" font-family="Liberation Serif, serif" font-size="14.5" fill="#262626" text-anchor="start" textLength="103.5" lengthAdjust="spacingAndGlyphs">1845X1245X1675mm</text>
<text x="416" y="560.9" font-family="Liberation Serif, Noto Serif CJK SC, serif" font-size="12.9" fill="#262626" text-anchor="start" textLength="38.7" lengthAdjust="spacingAndGlyphs">功率：</text>
<text x="453.2" y="560.6" font-family="Liberation Serif, serif" font-size="14.5" fill="#262626" text-anchor="start" textLength="32.4" lengthAdjust="spacingAndGlyphs">4.7KW</text>
<text x="16.5" y="540.6" font-family="Liberation Serif, Noto Serif CJK SC, serif" font-size="13.2" fill="#262626" text-anchor="start" textLength="158.4" lengthAdjust="spacingAndGlyphs">名称：一拖二全自动口罩机</text>
<text x="16.5" y="553.7" font-family="Liberation Serif, Noto Serif CJK SC, serif" font-size="13.2" fill="#262626" text-anchor="start" textLength="39.6" lengthAdjust="spacingAndGlyphs">型号：</text>
<text x="54.5" y="553.4" font-family="Liberation Serif, serif" font-size="14.8" fill="#262626" text-anchor="start" textLength="39.6" lengthAdjust="spacingAndGlyphs">XZ-120</text>
<text x="16.5" y="566.8" font-family="Liberation Serif, Noto Serif CJK SC, serif" font-size="13.2" fill="#262626" text-anchor="start" textLength="39.6" lengthAdjust="spacingAndGlyphs">尺寸：</text>
<text x="54.5" y="566.5" font-family="Liberation Serif, serif" font-size="14.8" fill="#262626" text-anchor="start" textLength="105.6" lengthAdjust="spacingAndGlyphs">1845X1245X1675mm</text>
<text x="16.5" y="579.9" font-family="Liberation Serif, Noto Serif CJK SC, serif" font-size="13.2" fill="#262626" text-anchor="start" textLength="39.6" lengthAdjust="spacingAndGlyphs">功率：</text>
<text x="54.5" y="579.6" font-family="Liberation Serif, serif" font-size="14.8" fill="#262626" text-anchor="start" textLength="33" lengthAdjust="spacingAndGlyphs">4.7KW</text>
<text x="634.7" y="451.8" font-family="Liberation Serif, Noto Serif CJK SC, serif" font-size="19.6" fill="#2e2e2e" text-anchor="start" textLength="235.2" lengthAdjust="spacingAndGlyphs">名称：一拖二全自动口罩机</text>
<text x="634.7" y="471.6" font-family="Liberation Serif, Noto Serif CJK SC, serif" font-size="19.6" fill="#2e2e2e" text-anchor="start" textLength="58.8" lengthAdjust="spacingAndGlyphs">型号：</text>
<text x="692.9" y="471.2" font-family="Liberation Serif, serif" font-size="22" fill="#2e2e2e" text-anchor="start" textLength="58.8" lengthAdjust="spacingAndGlyphs">XZ-120</text>
<text x="634.7" y="491.4" font-family="Liberation Serif, Noto Serif CJK SC, serif" font-size="19.6" fill="#2e2e2e" text-anchor="start" textLength="58.8" lengthAdjust="spacingAndGlyphs">尺寸：</text>
<text x="692.9" y="491" font-family="Liberation Serif, serif" font-size="22" fill="#2e2e2e" text-anchor="start" textLength="156.8" lengthAdjust="spacingAndGlyphs">4255X3547X1976mm</text>
<text x="634.7" y="511.2" font-family="Liberation Serif, Noto Serif CJK SC, serif" font-size="19.6" fill="#2e2e2e" text-anchor="start" textLength="58.8" lengthAdjust="spacingAndGlyphs">功率：</text>
<text x="692.9" y="510.8" font-family="Liberation Serif, serif" font-size="22" fill="#2e2e2e" text-anchor="start" textLength="68.6" lengthAdjust="spacingAndGlyphs">15.27KW</text>
<g fill="#fff" stroke="#b9b9b9" stroke-width="1.1"><path d="M729 606c-6.5 0-11.5 4.2-11.5 9.5 0 3 1.600 5.600 4.200 7.400l-1.200 3.800 4.400-2.300c1.300.4 2.700.6 4.100.6 6.500 0 11.500-4.200 11.500-9.500s-5-9.500-11.500-9.500z"/><path d="M742.500 613c-6.300 0-11.300 4-11.300 9s5 9 11.300 9c1.300 0 2.600-.2 3.800-.5l4 2.200-1.100-3.600c2.800-1.700 4.600-4.200 4.600-7.100 0-5-5-9-11.300-9z"/></g>
<circle cx="725" cy="612.5" r="1.1" fill="#fff" stroke="#b0b0b0" stroke-width="0.8"/>
<circle cx="733" cy="612.5" r="1.1" fill="#fff" stroke="#b0b0b0" stroke-width="0.8"/>
<circle cx="738.5" cy="620" r="1.1" fill="#fff" stroke="#b0b0b0" stroke-width="0.8"/>
<circle cx="746.5" cy="620" r="1.1" fill="#fff" stroke="#b0b0b0" stroke-width="0.8"/>
<text x="762.6" y="628.3" font-family="Liberation Sans, Noto Sans CJK SC, sans-serif" font-size="22.8" fill="#fff" opacity=".9" text-anchor="start" textLength="159.6" lengthAdjust="spacingAndGlyphs">旭众食品机械厂</text>
<text x="761.8" y="627.5" font-family="Liberation Sans, Noto Sans CJK SC, sans-serif" font-size="22.8" fill="#fff" text-anchor="start" textLength="159.6" lengthAdjust="spacingAndGlyphs">旭众食品机械厂</text>
<text x="762.3" y="628" font-family="Liberation Sans, Noto Sans CJK SC, sans-serif" font-size="22.8" fill="#777" text-anchor="start" textLength="159.6" lengthAdjust="spacingAndGlyphs">旭众食品机械厂</text>
</g>
</svg>
</body></html>
